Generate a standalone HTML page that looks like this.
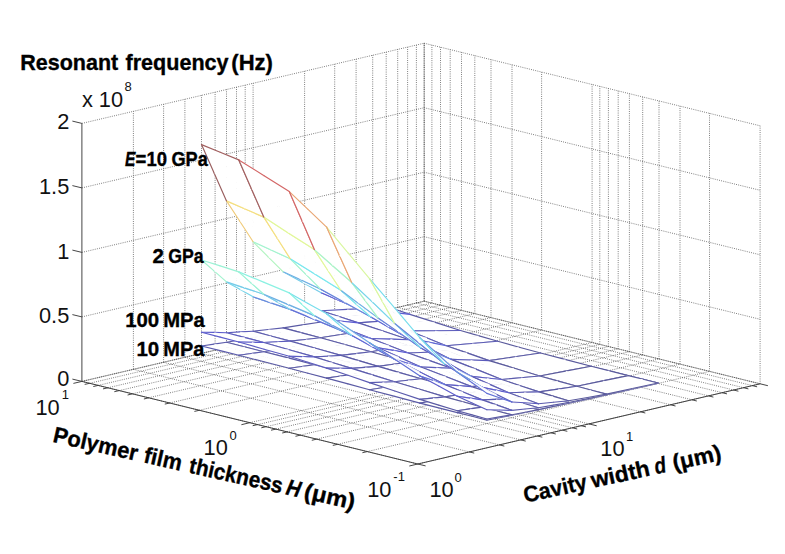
<!DOCTYPE html><html><head><meta charset="utf-8"><style>html,body{margin:0;padding:0;background:#fff;overflow:hidden}svg{display:block}</style></head><body><svg width="785" height="554" viewBox="0 0 785 554"><rect width="785" height="554" fill="#fff"/><path d="M133.4,369.3L133.4,111.3M163.6,362.3L163.6,104.3M184.9,357.3L184.9,99.3M201.5,353.4L201.5,95.4M215.1,350.2L215.1,92.2M226.5,347.5L226.5,89.5M236.5,345.2L236.5,87.2M245.2,343.1L245.2,85.1M253.1,341.3L253.1,83.3M304.6,329.2L304.6,71.2M334.7,322.2L334.7,64.2M356.1,317.2L356.1,59.2M372.7,313.3L372.7,55.3M386.2,310.1L386.2,52.1M397.7,307.4L397.7,49.4M407.6,305.1L407.6,47.1M416.4,303L416.4,45M424.2,301.2L424.2,43.2M81.9,381.4L424.2,301.2M81.9,316.9L424.2,236.7M81.9,252.4L424.2,172.2M81.9,187.9L424.2,107.7M81.9,123.4L424.2,43.2M760.1,383.8L760.1,125.8M709.5,371.4L709.5,113.4M680,364.1L680,106.1M659,358.9L659,100.9M642.7,354.9L642.7,96.9M629.4,351.7L629.4,93.7M618.2,348.9L618.2,90.9M608.4,346.5L608.4,88.5M599.8,344.4L599.8,86.4M592.1,342.5L592.1,84.5M541.6,330.1L541.6,72.1M512,322.8L512,64.8M491,317.6L491,59.6M474.8,313.6L474.8,55.6M461.5,310.4L461.5,52.4M450.2,307.6L450.2,49.6M440.5,305.2L440.5,47.2M431.9,303.1L431.9,45.1M424.2,301.2L424.2,43.2M424.2,301.2L760.1,383.8M424.2,236.7L760.1,319.3M424.2,172.2L760.1,254.8M424.2,107.7L760.1,190.3M424.2,43.2L760.1,125.8M81.9,381.4L417.8,464M133.4,369.3L469.3,451.9M163.6,362.3L499.5,444.9M184.9,357.3L520.8,439.9M201.5,353.4L537.4,436M215.1,350.2L551,432.8M226.5,347.5L562.4,430.1M236.5,345.2L572.4,427.8M245.2,343.1L581.1,425.7M253.1,341.3L588.9,423.9M304.6,329.2L640.5,411.8M334.7,322.2L670.6,404.8M356.1,317.2L692,399.8M372.7,313.3L708.6,395.9M386.2,310.1L722.1,392.7M397.7,307.4L733.6,390M407.6,305.1L743.5,387.7M416.4,303L752.3,385.6M424.2,301.2L760.1,383.8M417.8,464L760.1,383.8M367.2,451.6L709.5,371.4M337.7,444.3L680,364.1M316.7,439.1L659,358.9M300.4,435.1L642.7,354.9M287.1,431.9L629.4,351.7M275.9,429.1L618.2,348.9M266.1,426.7L608.4,346.5M257.5,424.6L599.8,344.4M249.8,422.7L592.1,342.5M199.3,410.3L541.6,330.1M169.7,403L512,322.8M148.7,397.8L491,317.6M132.5,393.8L474.8,313.6M119.2,390.6L461.5,310.4M107.9,387.8L450.2,307.6M98.2,385.4L440.5,305.2M89.6,383.3L431.9,303.1M81.9,381.4L424.2,301.2" stroke="#444" stroke-width="0.75" stroke-dasharray="0.9 1.3" fill="none"/><path d="M81.9,381.4L424.2,301.2M424.2,301.2L760.1,383.8M424.2,301.2L424.2,43.2" stroke="#8a8a8a" stroke-width="0.75" stroke-dasharray="0.9 1.3" fill="none" stroke-dashoffset="1.2"/><path d="M81.9,381.4L81.9,123.4M81.9,381.4L417.8,464M417.8,464L760.1,383.8M81.9,381.4L72.4,379.1M81.9,316.9L72.4,314.6M81.9,252.4L72.4,250.1M81.9,187.9L72.4,185.6M81.9,123.4L72.4,121.1M417.8,464L409.3,466M367.2,451.6L362.4,452.7M337.7,444.3L332.8,445.4M316.7,439.1L311.8,440.3M300.4,435.1L295.5,436.3M287.1,431.9L282.2,433M275.9,429.1L271,430.2M266.1,426.7L261.3,427.8M257.5,424.6L252.7,425.7M249.8,422.7L241.4,424.7M199.3,410.3L194.4,411.4M169.7,403L164.8,404.1M148.7,397.8L143.9,399M132.5,393.8L127.6,395M119.2,390.6L114.3,391.7M107.9,387.8L103,388.9M98.2,385.4L93.3,386.5M89.6,383.3L84.7,384.4M81.9,381.4L73.4,383.4M417.8,464L425.6,465.9M469.3,451.9L474.2,453.1M499.5,444.9L504.3,446.1M520.8,439.9L525.7,441.1M537.4,436L542.3,437.2M551,432.8L555.8,434M562.4,430.1L567.3,431.3M572.4,427.8L577.2,429M581.1,425.7L586,426.9M588.9,423.9L596.7,425.8M640.5,411.8L645.3,413M670.6,404.8L675.5,406M692,399.8L696.8,401M708.6,395.9L713.4,397.1M722.1,392.7L727,393.9M733.6,390L738.4,391.2M743.5,387.7L748.4,388.9M752.3,385.6L757.1,386.8M760.1,383.8L767.9,385.7" stroke="#3c3c3c" stroke-width="0.95" fill="none"/><g stroke-width="1.15" stroke-linecap="round"><path d="M365.5,323.1L346.9,318.4L372.7,312.8L391.3,317.4Z" fill="#fff" stroke="#fff" stroke-width="0.5"/><path d="M391.3,317.4L372.7,312.8" stroke="#5a5a9c"/><path d="M346.9,318.4L372.7,312.8" stroke="#5a5a9c"/><path d="M365.5,321.9L346.9,317L372.7,312.1L391.3,316.8Z" fill="#fff" stroke="#fff" stroke-width="0.5"/><path d="M391.3,316.8L372.7,312.1" stroke="#5a5a9c"/><path d="M346.9,317L372.7,312.1" stroke="#5a5a9c"/><path d="M365.5,315.1L346.9,309.4L372.7,308.1L391.3,313.4Z" fill="#fff" stroke="#fff" stroke-width="0.5"/><path d="M391.3,313.4L372.7,308.1" stroke="#5a5aa4"/><path d="M346.9,309.4L372.7,308.1" stroke="#5b5bbb"/><path d="M365.5,304.3L346.9,297.2L372.7,301.7L391.3,308Z" fill="#fff" stroke="#fff" stroke-width="0.5"/><path d="M391.3,308L372.7,301.7" stroke="#5b5bac"/><path d="M346.9,297.2L372.7,301.7" stroke="#606fd6"/><path d="M384.2,327.7L365.5,323.1L391.3,317.4L409.9,322Z" fill="#fff" stroke="#fff" stroke-width="0.5"/><path d="M409.9,322L391.3,317.4" stroke="#5a5a9c"/><path d="M384.2,327.7L409.9,322" stroke="#5a5a9c"/><path d="M384.2,326.7L365.5,321.9L391.3,316.8L409.9,321.6Z" fill="#fff" stroke="#fff" stroke-width="0.5"/><path d="M409.9,321.6L391.3,316.8" stroke="#5a5a9c"/><path d="M384.2,326.7L409.9,321.6" stroke="#5a5a9c"/><path d="M384.2,320.9L365.5,315.1L391.3,313.4L409.9,318.8Z" fill="#fff" stroke="#fff" stroke-width="0.5"/><path d="M409.9,318.8L391.3,313.4" stroke="#5a5aa4"/><path d="M384.2,320.9L409.9,318.8" stroke="#5b5bb3"/><path d="M384.2,311.5L365.5,304.3L391.3,308L409.9,314.4Z" fill="#fff" stroke="#fff" stroke-width="0.5"/><path d="M409.9,314.4L391.3,308" stroke="#5b5bac"/><path d="M384.2,311.5L409.9,314.4" stroke="#5c5cd2"/><path d="M339.8,328.8L321.2,324.1L346.9,318.4L365.5,323.1Z" fill="#fff" stroke="#fff" stroke-width="0.5"/><path d="M339.8,328.8L321.2,324.1" stroke="#5a5a9c"/><path d="M321.2,324.1L346.9,318.4" stroke="#5a5a9c"/><path d="M339.8,326.9L321.2,322L346.9,317L365.5,321.9Z" fill="#fff" stroke="#fff" stroke-width="0.5"/><path d="M339.8,326.9L321.2,322" stroke="#5a5a9c"/><path d="M321.2,322L346.9,317" stroke="#5a5a9c"/><path d="M339.8,316.8L321.2,310.7L346.9,309.4L365.5,315.1Z" fill="#fff" stroke="#fff" stroke-width="0.5"/><path d="M339.8,316.8L321.2,310.7" stroke="#5b5bb3"/><path d="M321.2,310.7L346.9,309.4" stroke="#5b5bbb"/><path d="M339.8,300.6L321.2,292.7L346.9,297.2L365.5,304.3Z" fill="#fff" stroke="#fff" stroke-width="0.5"/><path d="M339.8,300.6L321.2,292.7" stroke="#5c5cd2"/><path d="M321.2,292.7L346.9,297.2" stroke="#606fd6"/><path d="M409.5,334L384.2,327.7L409.9,322L435.2,328.3Z" fill="#fff" stroke="#fff" stroke-width="0.5"/><path d="M435.2,328.3L409.9,322" stroke="#5a5a9c"/><path d="M384.2,327.7L409.9,322" stroke="#5a5a9c"/><path d="M409.5,333.2L384.2,326.7L409.9,321.6L435.2,327.9Z" fill="#fff" stroke="#fff" stroke-width="0.5"/><path d="M435.2,327.9L409.9,321.6" stroke="#5a5a9c"/><path d="M384.2,326.7L409.9,321.6" stroke="#5a5a9c"/><path d="M409.5,328.6L384.2,320.9L409.9,318.8L435.2,325.8Z" fill="#fff" stroke="#fff" stroke-width="0.5"/><path d="M435.2,325.8L409.9,318.8" stroke="#5a5a9c"/><path d="M384.2,320.9L409.9,318.8" stroke="#5b5bb3"/><path d="M409.5,321.1L384.2,311.5L409.9,314.4L435.2,322.4Z" fill="#fff" stroke="#fff" stroke-width="0.5"/><path d="M435.2,322.4L409.9,314.4" stroke="#5a5aa4"/><path d="M384.2,311.5L409.9,314.4" stroke="#5c5cd2"/><path d="M358.4,333.4L339.8,328.8L365.5,323.1L384.2,327.7Z" fill="#fff" stroke="#fff" stroke-width="0.5"/><path d="M358.4,333.4L339.8,328.8" stroke="#5a5a9c"/><path d="M358.4,333.4L384.2,327.7" stroke="#5a5a9c"/><path d="M358.4,331.8L339.8,326.9L365.5,321.9L384.2,326.7Z" fill="#fff" stroke="#fff" stroke-width="0.5"/><path d="M358.4,331.8L339.8,326.9" stroke="#5a5a9c"/><path d="M358.4,331.8L384.2,326.7" stroke="#5a5a9c"/><path d="M358.4,322.9L339.8,316.8L365.5,315.1L384.2,320.9Z" fill="#fff" stroke="#fff" stroke-width="0.5"/><path d="M358.4,322.9L339.8,316.8" stroke="#5b5bb3"/><path d="M358.4,322.9L384.2,320.9" stroke="#5b5bb3"/><path d="M320.8,332.7L302.2,328L321.2,324.1L339.8,328.8Z" fill="#fff" stroke="#fff" stroke-width="0.5"/><path d="M339.8,328.8L321.2,324.1" stroke="#5a5a9c"/><path d="M302.2,328L321.2,324.1" stroke="#5a5a9c"/><path d="M320.8,329.9L302.2,324.9L321.2,322L339.8,326.9Z" fill="#fff" stroke="#fff" stroke-width="0.5"/><path d="M339.8,326.9L321.2,322" stroke="#5a5a9c"/><path d="M302.2,324.9L321.2,322" stroke="#5a5aa4"/><path d="M358.4,308.6L339.8,300.6L365.5,304.3L384.2,311.5Z" fill="#fff" stroke="#fff" stroke-width="0.5"/><path d="M358.4,308.6L339.8,300.6" stroke="#5c5cd2"/><path d="M358.4,308.6L384.2,311.5" stroke="#5c5cd2"/><path d="M320.8,314.7L302.2,308.5L321.2,310.7L339.8,316.8Z" fill="#fff" stroke="#fff" stroke-width="0.5"/><path d="M339.8,316.8L321.2,310.7" stroke="#5b5bb3"/><path d="M302.2,308.5L321.2,310.7" stroke="#5e66d4"/><path d="M320.8,290.5L302.2,282.2L321.2,292.7L339.8,300.6Z" fill="#fff" stroke="#fff" stroke-width="0.5"/><path d="M339.8,300.6L321.2,292.7" stroke="#5c5cd2"/><path d="M302.2,282.2L321.2,292.7" stroke="#73cbe8"/><path d="M301.8,336.7L283.2,332L302.2,328L320.8,332.7Z" fill="#fff" stroke="#fff" stroke-width="0.5"/><path d="M301.8,336.7L283.2,332" stroke="#5a5a9c"/><path d="M283.2,332L302.2,328" stroke="#5a5a9c"/><path d="M339.4,337.4L320.8,332.7L339.8,328.8L358.4,333.4Z" fill="#fff" stroke="#fff" stroke-width="0.5"/><path d="M358.4,333.4L339.8,328.8" stroke="#5a5a9c"/><path d="M339.4,337.4L358.4,333.4" stroke="#5a5a9c"/><path d="M383.7,339.8L358.4,333.4L384.2,327.7L409.5,334Z" fill="#fff" stroke="#fff" stroke-width="0.5"/><path d="M383.7,339.8L358.4,333.4" stroke="#5a5a9c"/><path d="M358.4,333.4L384.2,327.7" stroke="#5a5a9c"/><path d="M301.8,332.9L283.2,327.9L302.2,324.9L320.8,329.9Z" fill="#fff" stroke="#fff" stroke-width="0.5"/><path d="M301.8,332.9L283.2,327.9" stroke="#5a5aa4"/><path d="M283.2,327.9L302.2,324.9" stroke="#5a5aa4"/><path d="M339.4,334.8L320.8,329.9L339.8,326.9L358.4,331.8Z" fill="#fff" stroke="#fff" stroke-width="0.5"/><path d="M358.4,331.8L339.8,326.9" stroke="#5a5a9c"/><path d="M339.4,334.8L358.4,331.8" stroke="#5a5aa4"/><path d="M383.7,338.5L358.4,331.8L384.2,326.7L409.5,333.2Z" fill="#fff" stroke="#fff" stroke-width="0.5"/><path d="M383.7,338.5L358.4,331.8" stroke="#5a5a9c"/><path d="M358.4,331.8L384.2,326.7" stroke="#5a5a9c"/><path d="M434.7,340.3L409.5,334L435.2,328.3L460.5,334.5Z" fill="#fff" stroke="#fff" stroke-width="0.5"/><path d="M460.5,334.5L435.2,328.3" stroke="#5a5a9c"/><path d="M434.7,340.3L460.5,334.5" stroke="#5a5a9c"/><path d="M434.7,339.8L409.5,333.2L435.2,327.9L460.5,334.3Z" fill="#fff" stroke="#fff" stroke-width="0.5"/><path d="M460.5,334.3L435.2,327.9" stroke="#5a5a9c"/><path d="M434.7,339.8L460.5,334.3" stroke="#5a5a9c"/><path d="M434.7,336.3L409.5,328.6L435.2,325.8L460.5,332.9Z" fill="#fff" stroke="#fff" stroke-width="0.5"/><path d="M460.5,332.9L435.2,325.8" stroke="#5a5a9c"/><path d="M434.7,336.3L460.5,332.9" stroke="#5b5bac"/><path d="M383.7,331.3L358.4,322.9L384.2,320.9L409.5,328.6Z" fill="#fff" stroke="#fff" stroke-width="0.5"/><path d="M383.7,331.3L358.4,322.9" stroke="#5b5bac"/><path d="M358.4,322.9L384.2,320.9" stroke="#5b5bb3"/><path d="M434.7,330.7L409.5,321.1L435.2,322.4L460.5,330.5Z" fill="#fff" stroke="#fff" stroke-width="0.5"/><path d="M460.5,330.5L435.2,322.4" stroke="#5a5aa4"/><path d="M434.7,330.7L460.5,330.5" stroke="#5b5bbb"/><path d="M339.4,321L320.8,314.7L339.8,316.8L358.4,322.9Z" fill="#fff" stroke="#fff" stroke-width="0.5"/><path d="M358.4,322.9L339.8,316.8" stroke="#5b5bb3"/><path d="M339.4,321L358.4,322.9" stroke="#5c5cd2"/><path d="M301.8,312.7L283.2,306.3L302.2,308.5L320.8,314.7Z" fill="#fff" stroke="#fff" stroke-width="0.5"/><path d="M301.8,312.7L283.2,306.3" stroke="#5c5cd2"/><path d="M283.2,306.3L302.2,308.5" stroke="#5e66d4"/><path d="M383.7,319.7L358.4,308.6L384.2,311.5L409.5,321.1Z" fill="#fff" stroke="#fff" stroke-width="0.5"/><path d="M383.7,319.7L358.4,308.6" stroke="#5b5bbb"/><path d="M358.4,308.6L384.2,311.5" stroke="#5c5cd2"/><path d="M339.4,298.8L320.8,290.5L339.8,300.6L358.4,308.6Z" fill="#fff" stroke="#fff" stroke-width="0.5"/><path d="M358.4,308.6L339.8,300.6" stroke="#5c5cd2"/><path d="M339.4,298.8L358.4,308.6" stroke="#6dafe3"/><path d="M301.8,280.3L283.2,271.8L302.2,282.2L320.8,290.5Z" fill="#fff" stroke="#fff" stroke-width="0.5"/><path d="M301.8,280.3L283.2,271.8" stroke="#6dafe3"/><path d="M283.2,271.8L302.2,282.2" stroke="#73cbe8"/><path d="M286.7,339.5L268.1,334.9L283.2,332L301.8,336.7Z" fill="#fff" stroke="#fff" stroke-width="0.5"/><path d="M301.8,336.7L283.2,332" stroke="#5a5a9c"/><path d="M268.1,334.9L283.2,332" stroke="#5a5a9c"/><path d="M286.7,334.5L268.1,329.5L283.2,327.9L301.8,332.9Z" fill="#fff" stroke="#fff" stroke-width="0.5"/><path d="M301.8,332.9L283.2,327.9" stroke="#5a5aa4"/><path d="M268.1,329.5L283.2,327.9" stroke="#5b5bac"/><path d="M320.4,341.3L301.8,336.7L320.8,332.7L339.4,337.4Z" fill="#fff" stroke="#fff" stroke-width="0.5"/><path d="M320.4,341.3L301.8,336.7" stroke="#5a5a9c"/><path d="M320.4,341.3L339.4,337.4" stroke="#5a5a9c"/><path d="M320.4,337.8L301.8,332.9L320.8,329.9L339.4,334.8Z" fill="#fff" stroke="#fff" stroke-width="0.5"/><path d="M320.4,337.8L301.8,332.9" stroke="#5a5aa4"/><path d="M320.4,337.8L339.4,334.8" stroke="#5a5aa4"/><path d="M364.7,343.8L339.4,337.4L358.4,333.4L383.7,339.8Z" fill="#fff" stroke="#fff" stroke-width="0.5"/><path d="M383.7,339.8L358.4,333.4" stroke="#5a5a9c"/><path d="M339.4,337.4L358.4,333.4" stroke="#5a5a9c"/><path d="M364.7,341.7L339.4,334.8L358.4,331.8L383.7,338.5Z" fill="#fff" stroke="#fff" stroke-width="0.5"/><path d="M383.7,338.5L358.4,331.8" stroke="#5a5a9c"/><path d="M339.4,334.8L358.4,331.8" stroke="#5a5aa4"/><path d="M453.4,344.9L434.7,340.3L460.5,334.5L479.1,339.1Z" fill="#fff" stroke="#fff" stroke-width="0.5"/><path d="M479.1,339.1L460.5,334.5" stroke="#5a5a9c"/><path d="M434.7,340.3L460.5,334.5" stroke="#5a5a9c"/><path d="M453.4,344.5L434.7,339.8L460.5,334.3L479.1,339Z" fill="#fff" stroke="#fff" stroke-width="0.5"/><path d="M479.1,339L460.5,334.3" stroke="#5a5a9c"/><path d="M434.7,339.8L460.5,334.3" stroke="#5a5a9c"/><path d="M286.7,307.9L268.1,301.5L283.2,306.3L301.8,312.7Z" fill="#fff" stroke="#fff" stroke-width="0.5"/><path d="M301.8,312.7L283.2,306.3" stroke="#5c5cd2"/><path d="M268.1,301.5L283.2,306.3" stroke="#6894dd"/><path d="M320.4,319L301.8,312.7L320.8,314.7L339.4,321Z" fill="#fff" stroke="#fff" stroke-width="0.5"/><path d="M320.4,319L301.8,312.7" stroke="#5c5cd2"/><path d="M320.4,319L339.4,321" stroke="#5c5cd2"/><path d="M453.4,341.7L434.7,336.3L460.5,332.9L479.1,337.8Z" fill="#fff" stroke="#fff" stroke-width="0.5"/><path d="M479.1,337.8L460.5,332.9" stroke="#5a5a9c"/><path d="M434.7,336.3L460.5,332.9" stroke="#5b5bac"/><path d="M453.4,337.1L434.7,330.7L460.5,330.5L479.1,335.9Z" fill="#fff" stroke="#fff" stroke-width="0.5"/><path d="M479.1,335.9L460.5,330.5" stroke="#5a5a9c"/><path d="M434.7,330.7L460.5,330.5" stroke="#5b5bbb"/><path d="M364.7,330L339.4,321L358.4,322.9L383.7,331.3Z" fill="#fff" stroke="#fff" stroke-width="0.5"/><path d="M383.7,331.3L358.4,322.9" stroke="#5b5bac"/><path d="M339.4,321L358.4,322.9" stroke="#5c5cd2"/><path d="M409,346.1L383.7,339.8L409.5,334L434.7,340.3Z" fill="#fff" stroke="#fff" stroke-width="0.5"/><path d="M409,346.1L383.7,339.8" stroke="#5a5a9c"/><path d="M409,346.1L434.7,340.3" stroke="#5a5a9c"/><path d="M409,345.2L383.7,338.5L409.5,333.2L434.7,339.8Z" fill="#fff" stroke="#fff" stroke-width="0.5"/><path d="M409,345.2L383.7,338.5" stroke="#5a5a9c"/><path d="M409,345.2L434.7,339.8" stroke="#5a5a9c"/><path d="M409,339.7L383.7,331.3L409.5,328.6L434.7,336.3Z" fill="#fff" stroke="#fff" stroke-width="0.5"/><path d="M409,339.7L383.7,331.3" stroke="#5b5bac"/><path d="M409,339.7L434.7,336.3" stroke="#5b5bac"/><path d="M364.7,311.4L339.4,298.8L358.4,308.6L383.7,319.7Z" fill="#fff" stroke="#fff" stroke-width="0.5"/><path d="M383.7,319.7L358.4,308.6" stroke="#5b5bbb"/><path d="M339.4,298.8L358.4,308.6" stroke="#6dafe3"/><path d="M409,330.9L383.7,319.7L409.5,321.1L434.7,330.7Z" fill="#fff" stroke="#fff" stroke-width="0.5"/><path d="M409,330.9L383.7,319.7" stroke="#5b5bbb"/><path d="M409,330.9L434.7,330.7" stroke="#5b5bbb"/><path d="M320.4,288.9L301.8,280.3L320.8,290.5L339.4,298.8Z" fill="#fff" stroke="#fff" stroke-width="0.5"/><path d="M320.4,288.9L301.8,280.3" stroke="#6dafe3"/><path d="M320.4,288.9L339.4,298.8" stroke="#6dafe3"/><path d="M271.7,342.4L253.1,337.7L268.1,334.9L286.7,339.5Z" fill="#fff" stroke="#fff" stroke-width="0.5"/><path d="M271.7,342.4L253.1,337.7" stroke="#5a5a9c"/><path d="M253.1,337.7L268.1,334.9" stroke="#5a5a9c"/><path d="M271.7,336.2L253.1,331.2L268.1,329.5L286.7,334.5Z" fill="#fff" stroke="#fff" stroke-width="0.5"/><path d="M271.7,336.2L253.1,331.2" stroke="#5b5bac"/><path d="M253.1,331.2L268.1,329.5" stroke="#5b5bac"/><path d="M286.7,265.3L268.1,256.8L283.2,271.8L301.8,280.3Z" fill="#fff" stroke="#fff" stroke-width="0.5"/><path d="M301.8,280.3L283.2,271.8" stroke="#6dafe3"/><path d="M268.1,256.8L283.2,271.8" stroke="#b2f4c0"/><path d="M305.4,344.2L286.7,339.5L301.8,336.7L320.4,341.3Z" fill="#fff" stroke="#fff" stroke-width="0.5"/><path d="M320.4,341.3L301.8,336.7" stroke="#5a5a9c"/><path d="M305.4,344.2L320.4,341.3" stroke="#5a5a9c"/><path d="M305.4,339.5L286.7,334.5L301.8,332.9L320.4,337.8Z" fill="#fff" stroke="#fff" stroke-width="0.5"/><path d="M320.4,337.8L301.8,332.9" stroke="#5a5aa4"/><path d="M305.4,339.5L320.4,337.8" stroke="#5b5bac"/><path d="M271.7,303.1L253.1,296.8L268.1,301.5L286.7,307.9Z" fill="#fff" stroke="#fff" stroke-width="0.5"/><path d="M271.7,303.1L253.1,296.8" stroke="#668bdc"/><path d="M253.1,296.8L268.1,301.5" stroke="#6894dd"/><path d="M345.7,347.8L320.4,341.3L339.4,337.4L364.7,343.8Z" fill="#fff" stroke="#fff" stroke-width="0.5"/><path d="M345.7,347.8L320.4,341.3" stroke="#5a5a9c"/><path d="M320.4,341.3L339.4,337.4" stroke="#5a5a9c"/><path d="M345.7,344.8L320.4,337.8L339.4,334.8L364.7,341.7Z" fill="#fff" stroke="#fff" stroke-width="0.5"/><path d="M345.7,344.8L320.4,337.8" stroke="#5a5aa4"/><path d="M320.4,337.8L339.4,334.8" stroke="#5a5aa4"/><path d="M305.4,314.2L286.7,307.9L301.8,312.7L320.4,319Z" fill="#fff" stroke="#fff" stroke-width="0.5"/><path d="M320.4,319L301.8,312.7" stroke="#5c5cd2"/><path d="M305.4,314.2L320.4,319" stroke="#668bdc"/><path d="M472,349.5L453.4,344.9L479.1,339.1L497.8,343.7Z" fill="#fff" stroke="#fff" stroke-width="0.5"/><path d="M497.8,343.7L479.1,339.1" stroke="#5a5a9c"/><path d="M472,349.5L497.8,343.7" stroke="#5a5a9c"/><path d="M472,349.2L453.4,344.5L479.1,339L497.8,343.6Z" fill="#fff" stroke="#fff" stroke-width="0.5"/><path d="M497.8,343.6L479.1,339" stroke="#5a5a9c"/><path d="M472,349.2L497.8,343.6" stroke="#5a5a9c"/><path d="M472,347.1L453.4,341.7L479.1,337.8L497.8,342.8Z" fill="#fff" stroke="#fff" stroke-width="0.5"/><path d="M497.8,342.8L479.1,337.8" stroke="#5a5a9c"/><path d="M472,347.1L497.8,342.8" stroke="#5a5aa4"/><path d="M472,343.5L453.4,337.1L479.1,335.9L497.8,341.3Z" fill="#fff" stroke="#fff" stroke-width="0.5"/><path d="M497.8,341.3L479.1,335.9" stroke="#5a5a9c"/><path d="M472,343.5L497.8,341.3" stroke="#5b5bb3"/><path d="M258.4,344.7L239.8,340L253.1,337.7L271.7,342.4Z" fill="#fff" stroke="#fff" stroke-width="0.5"/><path d="M271.7,342.4L253.1,337.7" stroke="#5a5a9c"/><path d="M239.8,340L253.1,337.7" stroke="#5a5aa4"/><path d="M345.7,328.8L320.4,319L339.4,321L364.7,330Z" fill="#fff" stroke="#fff" stroke-width="0.5"/><path d="M345.7,328.8L320.4,319" stroke="#5c5cc3"/><path d="M320.4,319L339.4,321" stroke="#5c5cd2"/><path d="M258.4,336.9L239.8,331.9L253.1,331.2L271.7,336.2Z" fill="#fff" stroke="#fff" stroke-width="0.5"/><path d="M271.7,336.2L253.1,331.2" stroke="#5b5bac"/><path d="M239.8,331.9L253.1,331.2" stroke="#5b5bbb"/><path d="M390,350.1L364.7,343.8L383.7,339.8L409,346.1Z" fill="#fff" stroke="#fff" stroke-width="0.5"/><path d="M409,346.1L383.7,339.8" stroke="#5a5a9c"/><path d="M390,350.1L409,346.1" stroke="#5a5a9c"/><path d="M390,348.5L364.7,341.7L383.7,338.5L409,345.2Z" fill="#fff" stroke="#fff" stroke-width="0.5"/><path d="M409,345.2L383.7,338.5" stroke="#5a5a9c"/><path d="M390,348.5L409,345.2" stroke="#5a5aa4"/><path d="M427.6,350.7L409,346.1L434.7,340.3L453.4,344.9Z" fill="#fff" stroke="#fff" stroke-width="0.5"/><path d="M427.6,350.7L409,346.1" stroke="#5a5a9c"/><path d="M409,346.1L434.7,340.3" stroke="#5a5a9c"/><path d="M427.6,350L409,345.2L434.7,339.8L453.4,344.5Z" fill="#fff" stroke="#fff" stroke-width="0.5"/><path d="M427.6,350L409,345.2" stroke="#5a5a9c"/><path d="M409,345.2L434.7,339.8" stroke="#5a5a9c"/><path d="M427.6,345.6L409,339.7L434.7,336.3L453.4,341.7Z" fill="#fff" stroke="#fff" stroke-width="0.5"/><path d="M427.6,345.6L409,339.7" stroke="#5a5aa4"/><path d="M409,339.7L434.7,336.3" stroke="#5b5bac"/><path d="M290.3,347.1L271.7,342.4L286.7,339.5L305.4,344.2Z" fill="#fff" stroke="#fff" stroke-width="0.5"/><path d="M290.3,347.1L271.7,342.4" stroke="#5a5a9c"/><path d="M290.3,347.1L305.4,344.2" stroke="#5a5a9c"/><path d="M390,339.1L364.7,330L383.7,331.3L409,339.7Z" fill="#fff" stroke="#fff" stroke-width="0.5"/><path d="M409,339.7L383.7,331.3" stroke="#5b5bac"/><path d="M390,339.1L409,339.7" stroke="#5c5cc3"/><path d="M305.4,273.9L286.7,265.3L301.8,280.3L320.4,288.9Z" fill="#fff" stroke="#fff" stroke-width="0.5"/><path d="M320.4,288.9L301.8,280.3" stroke="#6dafe3"/><path d="M305.4,273.9L320.4,288.9" stroke="#a2f3ce"/><path d="M427.6,338.3L409,330.9L434.7,330.7L453.4,337.1Z" fill="#fff" stroke="#fff" stroke-width="0.5"/><path d="M427.6,338.3L409,330.9" stroke="#5b5bb3"/><path d="M409,330.9L434.7,330.7" stroke="#5b5bbb"/><path d="M290.3,341.1L271.7,336.2L286.7,334.5L305.4,339.5Z" fill="#fff" stroke="#fff" stroke-width="0.5"/><path d="M290.3,341.1L271.7,336.2" stroke="#5b5bac"/><path d="M290.3,341.1L305.4,339.5" stroke="#5b5bac"/><path d="M345.7,303L320.4,288.9L339.4,298.8L364.7,311.4Z" fill="#fff" stroke="#fff" stroke-width="0.5"/><path d="M345.7,303L320.4,288.9" stroke="#6481da"/><path d="M320.4,288.9L339.4,298.8" stroke="#6dafe3"/><path d="M271.7,250.3L253.1,241.8L268.1,256.8L286.7,265.3Z" fill="#fff" stroke="#fff" stroke-width="0.5"/><path d="M271.7,250.3L253.1,241.8" stroke="#a2f3ce"/><path d="M253.1,241.8L268.1,256.8" stroke="#b2f4c0"/><path d="M390,324L364.7,311.4L383.7,319.7L409,330.9Z" fill="#fff" stroke="#fff" stroke-width="0.5"/><path d="M409,330.9L383.7,319.7" stroke="#5b5bbb"/><path d="M390,324L409,330.9" stroke="#6481da"/><path d="M258.4,295.6L239.8,289.3L253.1,296.8L271.7,303.1Z" fill="#fff" stroke="#fff" stroke-width="0.5"/><path d="M271.7,303.1L253.1,296.8" stroke="#668bdc"/><path d="M239.8,289.3L253.1,296.8" stroke="#75d4ea"/><path d="M330.7,350.7L305.4,344.2L320.4,341.3L345.7,347.8Z" fill="#fff" stroke="#fff" stroke-width="0.5"/><path d="M345.7,347.8L320.4,341.3" stroke="#5a5a9c"/><path d="M305.4,344.2L320.4,341.3" stroke="#5a5a9c"/><path d="M245.2,347L226.5,342.3L239.8,340L258.4,344.7Z" fill="#fff" stroke="#fff" stroke-width="0.5"/><path d="M245.2,347L226.5,342.3" stroke="#5a5aa4"/><path d="M226.5,342.3L239.8,340" stroke="#5a5aa4"/><path d="M330.7,346.6L305.4,339.5L320.4,337.8L345.7,344.8Z" fill="#fff" stroke="#fff" stroke-width="0.5"/><path d="M345.7,344.8L320.4,337.8" stroke="#5a5aa4"/><path d="M305.4,339.5L320.4,337.8" stroke="#5b5bac"/><path d="M290.3,309.4L271.7,303.1L286.7,307.9L305.4,314.2Z" fill="#fff" stroke="#fff" stroke-width="0.5"/><path d="M290.3,309.4L271.7,303.1" stroke="#668bdc"/><path d="M290.3,309.4L305.4,314.2" stroke="#668bdc"/><path d="M245.2,337.6L226.5,332.7L239.8,331.9L258.4,336.9Z" fill="#fff" stroke="#fff" stroke-width="0.5"/><path d="M245.2,337.6L226.5,332.7" stroke="#5b5bbb"/><path d="M226.5,332.7L239.8,331.9" stroke="#5b5bbb"/><path d="M493.4,354.8L472,349.5L497.8,343.7L519.2,349Z" fill="#fff" stroke="#fff" stroke-width="0.5"/><path d="M519.2,349L497.8,343.7" stroke="#5a5a9c"/><path d="M472,349.5L497.8,343.7" stroke="#5a5a9c"/><path d="M493.4,354.6L472,349.2L497.8,343.6L519.2,348.9Z" fill="#fff" stroke="#fff" stroke-width="0.5"/><path d="M519.2,348.9L497.8,343.6" stroke="#5a5a9c"/><path d="M472,349.2L497.8,343.6" stroke="#5a5a9c"/><path d="M493.4,353L472,347.1L497.8,342.8L519.2,348.3Z" fill="#fff" stroke="#fff" stroke-width="0.5"/><path d="M519.2,348.3L497.8,342.8" stroke="#5a5a9c"/><path d="M472,347.1L497.8,342.8" stroke="#5a5aa4"/><path d="M493.4,350.2L472,343.5L497.8,341.3L519.2,347.2Z" fill="#fff" stroke="#fff" stroke-width="0.5"/><path d="M519.2,347.2L497.8,341.3" stroke="#5a5a9c"/><path d="M472,343.5L497.8,341.3" stroke="#5b5bb3"/><path d="M330.7,324.3L305.4,314.2L320.4,319L345.7,328.8Z" fill="#fff" stroke="#fff" stroke-width="0.5"/><path d="M345.7,328.8L320.4,319" stroke="#5c5cc3"/><path d="M305.4,314.2L320.4,319" stroke="#668bdc"/><path d="M277.1,349.4L258.4,344.7L271.7,342.4L290.3,347.1Z" fill="#fff" stroke="#fff" stroke-width="0.5"/><path d="M290.3,347.1L271.7,342.4" stroke="#5a5a9c"/><path d="M277.1,349.4L290.3,347.1" stroke="#5a5aa4"/><path d="M277.1,341.8L258.4,336.9L271.7,336.2L290.3,341.1Z" fill="#fff" stroke="#fff" stroke-width="0.5"/><path d="M290.3,341.1L271.7,336.2" stroke="#5b5bac"/><path d="M277.1,341.8L290.3,341.1" stroke="#5b5bbb"/><path d="M371,354.2L345.7,347.8L364.7,343.8L390,350.1Z" fill="#fff" stroke="#fff" stroke-width="0.5"/><path d="M371,354.2L345.7,347.8" stroke="#5a5a9c"/><path d="M371,354.2L390,350.1" stroke="#5a5a9c"/><path d="M371,351.8L345.7,344.8L364.7,341.7L390,348.5Z" fill="#fff" stroke="#fff" stroke-width="0.5"/><path d="M371,351.8L345.7,344.8" stroke="#5a5aa4"/><path d="M371,351.8L390,348.5" stroke="#5a5aa4"/><path d="M446.2,355.4L427.6,350.7L453.4,344.9L472,349.5Z" fill="#fff" stroke="#fff" stroke-width="0.5"/><path d="M446.2,355.4L427.6,350.7" stroke="#5a5a9c"/><path d="M446.2,355.4L472,349.5" stroke="#5a5a9c"/><path d="M446.2,354.9L427.6,350L453.4,344.5L472,349.2Z" fill="#fff" stroke="#fff" stroke-width="0.5"/><path d="M446.2,354.9L427.6,350" stroke="#5a5a9c"/><path d="M446.2,354.9L472,349.2" stroke="#5a5a9c"/><path d="M446.2,351.4L427.6,345.6L453.4,341.7L472,347.1Z" fill="#fff" stroke="#fff" stroke-width="0.5"/><path d="M446.2,351.4L427.6,345.6" stroke="#5a5aa4"/><path d="M446.2,351.4L472,347.1" stroke="#5a5aa4"/><path d="M446.2,345.7L427.6,338.3L453.4,337.1L472,343.5Z" fill="#fff" stroke="#fff" stroke-width="0.5"/><path d="M446.2,345.7L427.6,338.3" stroke="#5b5bb3"/><path d="M446.2,345.7L472,343.5" stroke="#5b5bb3"/><path d="M408.6,354.8L390,350.1L409,346.1L427.6,350.7Z" fill="#fff" stroke="#fff" stroke-width="0.5"/><path d="M427.6,350.7L409,346.1" stroke="#5a5a9c"/><path d="M390,350.1L409,346.1" stroke="#5a5a9c"/><path d="M371,338.5L345.7,328.8L364.7,330L390,339.1Z" fill="#fff" stroke="#fff" stroke-width="0.5"/><path d="M371,338.5L345.7,328.8" stroke="#5c5cc3"/><path d="M371,338.5L390,339.1" stroke="#5c5cc3"/><path d="M408.6,353.5L390,348.5L409,345.2L427.6,350Z" fill="#fff" stroke="#fff" stroke-width="0.5"/><path d="M427.6,350L409,345.2" stroke="#5a5a9c"/><path d="M390,348.5L409,345.2" stroke="#5a5aa4"/><path d="M290.3,258.8L271.7,250.3L286.7,265.3L305.4,273.9Z" fill="#fff" stroke="#fff" stroke-width="0.5"/><path d="M290.3,258.8L271.7,250.3" stroke="#a2f3ce"/><path d="M290.3,258.8L305.4,273.9" stroke="#a2f3ce"/><path d="M232.7,348.8L214,344.1L226.5,342.3L245.2,347Z" fill="#fff" stroke="#fff" stroke-width="0.5"/><path d="M245.2,347L226.5,342.3" stroke="#5a5aa4"/><path d="M214,344.1L226.5,342.3" stroke="#5b5bac"/><path d="M258.4,229.6L239.8,221.3L253.1,241.8L271.7,250.3Z" fill="#fff" stroke="#fff" stroke-width="0.5"/><path d="M271.7,250.3L253.1,241.8" stroke="#a2f3ce"/><path d="M239.8,221.3L253.1,241.8" stroke="#f0cb7a"/><path d="M245.2,288.1L226.5,281.9L239.8,289.3L258.4,295.6Z" fill="#fff" stroke="#fff" stroke-width="0.5"/><path d="M245.2,288.1L226.5,281.9" stroke="#73cbe8"/><path d="M226.5,281.9L239.8,289.3" stroke="#75d4ea"/><path d="M330.7,288.8L305.4,273.9L320.4,288.9L345.7,303Z" fill="#fff" stroke="#fff" stroke-width="0.5"/><path d="M345.7,303L320.4,288.9" stroke="#6481da"/><path d="M305.4,273.9L320.4,288.9" stroke="#a2f3ce"/><path d="M315.6,353.6L290.3,347.1L305.4,344.2L330.7,350.7Z" fill="#fff" stroke="#fff" stroke-width="0.5"/><path d="M315.6,353.6L290.3,347.1" stroke="#5a5a9c"/><path d="M290.3,347.1L305.4,344.2" stroke="#5a5a9c"/><path d="M408.6,345.6L390,339.1L409,339.7L427.6,345.6Z" fill="#fff" stroke="#fff" stroke-width="0.5"/><path d="M427.6,345.6L409,339.7" stroke="#5a5aa4"/><path d="M390,339.1L409,339.7" stroke="#5c5cc3"/><path d="M232.7,337.4L214,332.4L226.5,332.7L245.2,337.6Z" fill="#fff" stroke="#fff" stroke-width="0.5"/><path d="M245.2,337.6L226.5,332.7" stroke="#5b5bbb"/><path d="M214,332.4L226.5,332.7" stroke="#5c5ccb"/><path d="M315.6,348.3L290.3,341.1L305.4,339.5L330.7,346.6Z" fill="#fff" stroke="#fff" stroke-width="0.5"/><path d="M315.6,348.3L290.3,341.1" stroke="#5b5bac"/><path d="M290.3,341.1L305.4,339.5" stroke="#5b5bac"/><path d="M277.1,301.8L258.4,295.6L271.7,303.1L290.3,309.4Z" fill="#fff" stroke="#fff" stroke-width="0.5"/><path d="M290.3,309.4L271.7,303.1" stroke="#668bdc"/><path d="M277.1,301.8L290.3,309.4" stroke="#73cbe8"/><path d="M408.6,333L390,324L409,330.9L427.6,338.3Z" fill="#fff" stroke="#fff" stroke-width="0.5"/><path d="M427.6,338.3L409,330.9" stroke="#5b5bb3"/><path d="M390,324L409,330.9" stroke="#6481da"/><path d="M371,317.1L345.7,303L364.7,311.4L390,324Z" fill="#fff" stroke="#fff" stroke-width="0.5"/><path d="M371,317.1L345.7,303" stroke="#6481da"/><path d="M371,317.1L390,324" stroke="#6481da"/><path d="M263.8,351.7L245.2,347L258.4,344.7L277.1,349.4Z" fill="#fff" stroke="#fff" stroke-width="0.5"/><path d="M263.8,351.7L245.2,347" stroke="#5a5aa4"/><path d="M263.8,351.7L277.1,349.4" stroke="#5a5aa4"/><path d="M263.8,342.5L245.2,337.6L258.4,336.9L277.1,341.8Z" fill="#fff" stroke="#fff" stroke-width="0.5"/><path d="M263.8,342.5L245.2,337.6" stroke="#5b5bbb"/><path d="M263.8,342.5L277.1,341.8" stroke="#5b5bbb"/><path d="M315.6,319.9L290.3,309.4L305.4,314.2L330.7,324.3Z" fill="#fff" stroke="#fff" stroke-width="0.5"/><path d="M315.6,319.9L290.3,309.4" stroke="#606fd6"/><path d="M290.3,309.4L305.4,314.2" stroke="#668bdc"/><path d="M355.9,357.1L330.7,350.7L345.7,347.8L371,354.2Z" fill="#fff" stroke="#fff" stroke-width="0.5"/><path d="M371,354.2L345.7,347.8" stroke="#5a5a9c"/><path d="M355.9,357.1L371,354.2" stroke="#5a5a9c"/><path d="M220.2,350.6L201.5,346L214,344.1L232.7,348.8Z" fill="#fff" stroke="#fff" stroke-width="0.5"/><path d="M220.2,350.6L201.5,346" stroke="#5b5bac"/><path d="M201.5,346L214,344.1" stroke="#5b5bac"/><path d="M355.9,353.6L330.7,346.6L345.7,344.8L371,351.8Z" fill="#fff" stroke="#fff" stroke-width="0.5"/><path d="M371,351.8L345.7,344.8" stroke="#5a5aa4"/><path d="M355.9,353.6L371,351.8" stroke="#5b5bac"/><path d="M514.9,360.1L493.4,354.8L519.2,349L540.6,354.2Z" fill="#fff" stroke="#fff" stroke-width="0.5"/><path d="M540.6,354.2L519.2,349" stroke="#5a5a9c"/><path d="M514.9,360.1L540.6,354.2" stroke="#5a5a9c"/><path d="M514.9,360L493.4,354.6L519.2,348.9L540.6,354.2Z" fill="#fff" stroke="#fff" stroke-width="0.5"/><path d="M540.6,354.2L519.2,348.9" stroke="#5a5a9c"/><path d="M514.9,360L540.6,354.2" stroke="#5a5a9c"/><path d="M514.9,358.8L493.4,353L519.2,348.3L540.6,353.8Z" fill="#fff" stroke="#fff" stroke-width="0.5"/><path d="M540.6,353.8L519.2,348.3" stroke="#5a5a9c"/><path d="M514.9,358.8L540.6,353.8" stroke="#5a5a9c"/><path d="M514.9,356.8L493.4,350.2L519.2,347.2L540.6,353Z" fill="#fff" stroke="#fff" stroke-width="0.5"/><path d="M540.6,353L519.2,347.2" stroke="#5a5a9c"/><path d="M514.9,356.8L540.6,353" stroke="#5a5aa4"/><path d="M302.3,355.9L277.1,349.4L290.3,347.1L315.6,353.6Z" fill="#fff" stroke="#fff" stroke-width="0.5"/><path d="M315.6,353.6L290.3,347.1" stroke="#5a5a9c"/><path d="M277.1,349.4L290.3,347.1" stroke="#5a5aa4"/><path d="M220.2,337.1L201.5,332.2L214,332.4L232.7,337.4Z" fill="#fff" stroke="#fff" stroke-width="0.5"/><path d="M220.2,337.1L201.5,332.2" stroke="#5c5ccb"/><path d="M201.5,332.2L214,332.4" stroke="#5c5ccb"/><path d="M232.7,277L214,270.9L226.5,281.9L245.2,288.1Z" fill="#fff" stroke="#fff" stroke-width="0.5"/><path d="M245.2,288.1L226.5,281.9" stroke="#73cbe8"/><path d="M214,270.9L226.5,281.9" stroke="#a2f3ce"/><path d="M467.7,360.6L446.2,355.4L472,349.5L493.4,354.8Z" fill="#fff" stroke="#fff" stroke-width="0.5"/><path d="M467.7,360.6L446.2,355.4" stroke="#5a5a9c"/><path d="M446.2,355.4L472,349.5" stroke="#5a5a9c"/><path d="M302.3,349L277.1,341.8L290.3,341.1L315.6,348.3Z" fill="#fff" stroke="#fff" stroke-width="0.5"/><path d="M315.6,348.3L290.3,341.1" stroke="#5b5bac"/><path d="M277.1,341.8L290.3,341.1" stroke="#5b5bbb"/><path d="M467.7,360.3L446.2,354.9L472,349.2L493.4,354.6Z" fill="#fff" stroke="#fff" stroke-width="0.5"/><path d="M467.7,360.3L446.2,354.9" stroke="#5a5a9c"/><path d="M446.2,354.9L472,349.2" stroke="#5a5a9c"/><path d="M355.9,334.5L330.7,324.3L345.7,328.8L371,338.5Z" fill="#fff" stroke="#fff" stroke-width="0.5"/><path d="M371,338.5L345.7,328.8" stroke="#5c5cc3"/><path d="M355.9,334.5L371,338.5" stroke="#606fd6"/><path d="M467.7,357.6L446.2,351.4L472,347.1L493.4,353Z" fill="#fff" stroke="#fff" stroke-width="0.5"/><path d="M467.7,357.6L446.2,351.4" stroke="#5a5a9c"/><path d="M446.2,351.4L472,347.1" stroke="#5a5aa4"/><path d="M389.6,358.9L371,354.2L390,350.1L408.6,354.8Z" fill="#fff" stroke="#fff" stroke-width="0.5"/><path d="M389.6,358.9L371,354.2" stroke="#5a5a9c"/><path d="M371,354.2L390,350.1" stroke="#5a5a9c"/><path d="M427.2,359.5L408.6,354.8L427.6,350.7L446.2,355.4Z" fill="#fff" stroke="#fff" stroke-width="0.5"/><path d="M446.2,355.4L427.6,350.7" stroke="#5a5a9c"/><path d="M427.2,359.5L446.2,355.4" stroke="#5a5a9c"/><path d="M389.6,357L371,351.8L390,348.5L408.6,353.5Z" fill="#fff" stroke="#fff" stroke-width="0.5"/><path d="M389.6,357L371,351.8" stroke="#5a5a9c"/><path d="M371,351.8L390,348.5" stroke="#5a5aa4"/><path d="M427.2,358.5L408.6,353.5L427.6,350L446.2,354.9Z" fill="#fff" stroke="#fff" stroke-width="0.5"/><path d="M446.2,354.9L427.6,350" stroke="#5a5a9c"/><path d="M427.2,358.5L446.2,354.9" stroke="#5a5a9c"/><path d="M467.7,353.1L446.2,345.7L472,343.5L493.4,350.2Z" fill="#fff" stroke="#fff" stroke-width="0.5"/><path d="M467.7,353.1L446.2,345.7" stroke="#5a5aa4"/><path d="M446.2,345.7L472,343.5" stroke="#5b5bb3"/><path d="M251.3,353.5L232.7,348.8L245.2,347L263.8,351.7Z" fill="#fff" stroke="#fff" stroke-width="0.5"/><path d="M263.8,351.7L245.2,347" stroke="#5a5aa4"/><path d="M251.3,353.5L263.8,351.7" stroke="#5b5bac"/><path d="M277.1,238L258.4,229.6L271.7,250.3L290.3,258.8Z" fill="#fff" stroke="#fff" stroke-width="0.5"/><path d="M290.3,258.8L271.7,250.3" stroke="#a2f3ce"/><path d="M277.1,238L290.3,258.8" stroke="#f4de7e"/><path d="M263.8,294.2L245.2,288.1L258.4,295.6L277.1,301.8Z" fill="#fff" stroke="#fff" stroke-width="0.5"/><path d="M263.8,294.2L245.2,288.1" stroke="#73cbe8"/><path d="M263.8,294.2L277.1,301.8" stroke="#73cbe8"/><path d="M245.2,209L226.5,200.9L239.8,221.3L258.4,229.6Z" fill="#fff" stroke="#fff" stroke-width="0.5"/><path d="M245.2,209L226.5,200.9" stroke="#f4de7e"/><path d="M226.5,200.9L239.8,221.3" stroke="#f0cb7a"/><path d="M427.2,352.2L408.6,345.6L427.6,345.6L446.2,351.4Z" fill="#fff" stroke="#fff" stroke-width="0.5"/><path d="M446.2,351.4L427.6,345.6" stroke="#5a5aa4"/><path d="M427.2,352.2L446.2,351.4" stroke="#5b5bb3"/><path d="M315.6,274.5L290.3,258.8L305.4,273.9L330.7,288.8Z" fill="#fff" stroke="#fff" stroke-width="0.5"/><path d="M315.6,274.5L290.3,258.8" stroke="#78e7ee"/><path d="M290.3,258.8L305.4,273.9" stroke="#a2f3ce"/><path d="M389.6,345.7L371,338.5L390,339.1L408.6,345.6Z" fill="#fff" stroke="#fff" stroke-width="0.5"/><path d="M389.6,345.7L371,338.5" stroke="#5b5bb3"/><path d="M371,338.5L390,339.1" stroke="#5c5cc3"/><path d="M251.3,342.3L232.7,337.4L245.2,337.6L263.8,342.5Z" fill="#fff" stroke="#fff" stroke-width="0.5"/><path d="M263.8,342.5L245.2,337.6" stroke="#5b5bbb"/><path d="M251.3,342.3L263.8,342.5" stroke="#5c5ccb"/><path d="M427.2,341.9L408.6,333L427.6,338.3L446.2,345.7Z" fill="#fff" stroke="#fff" stroke-width="0.5"/><path d="M446.2,345.7L427.6,338.3" stroke="#5b5bb3"/><path d="M427.2,341.9L446.2,345.7" stroke="#5e66d4"/><path d="M355.9,303.7L330.7,288.8L345.7,303L371,317.1Z" fill="#fff" stroke="#fff" stroke-width="0.5"/><path d="M371,317.1L345.7,303" stroke="#6481da"/><path d="M355.9,303.7L371,317.1" stroke="#78e7ee"/><path d="M389.6,327.7L371,317.1L390,324L408.6,333Z" fill="#fff" stroke="#fff" stroke-width="0.5"/><path d="M389.6,327.7L371,317.1" stroke="#5e66d4"/><path d="M371,317.1L390,324" stroke="#6481da"/><path d="M302.3,312.4L277.1,301.8L290.3,309.4L315.6,319.9Z" fill="#fff" stroke="#fff" stroke-width="0.5"/><path d="M315.6,319.9L290.3,309.4" stroke="#606fd6"/><path d="M277.1,301.8L290.3,309.4" stroke="#73cbe8"/><path d="M340.9,360.1L315.6,353.6L330.7,350.7L355.9,357.1Z" fill="#fff" stroke="#fff" stroke-width="0.5"/><path d="M340.9,360.1L315.6,353.6" stroke="#5a5a9c"/><path d="M340.9,360.1L355.9,357.1" stroke="#5a5a9c"/><path d="M340.9,355.4L315.6,348.3L330.7,346.6L355.9,353.6Z" fill="#fff" stroke="#fff" stroke-width="0.5"/><path d="M340.9,355.4L315.6,348.3" stroke="#5b5bac"/><path d="M340.9,355.4L355.9,353.6" stroke="#5b5bac"/><path d="M289.1,358.1L263.8,351.7L277.1,349.4L302.3,355.9Z" fill="#fff" stroke="#fff" stroke-width="0.5"/><path d="M289.1,358.1L263.8,351.7" stroke="#5a5aa4"/><path d="M263.8,351.7L277.1,349.4" stroke="#5a5aa4"/><path d="M289.1,349.7L263.8,342.5L277.1,341.8L302.3,349Z" fill="#fff" stroke="#fff" stroke-width="0.5"/><path d="M289.1,349.7L263.8,342.5" stroke="#5b5bb3"/><path d="M263.8,342.5L277.1,341.8" stroke="#5b5bbb"/><path d="M238.8,355.3L220.2,350.6L232.7,348.8L251.3,353.5Z" fill="#fff" stroke="#fff" stroke-width="0.5"/><path d="M238.8,355.3L220.2,350.6" stroke="#5b5bac"/><path d="M238.8,355.3L251.3,353.5" stroke="#5b5bac"/><path d="M220.2,265.9L201.5,260L214,270.9L232.7,277Z" fill="#fff" stroke="#fff" stroke-width="0.5"/><path d="M220.2,265.9L201.5,260" stroke="#9af2d5"/><path d="M201.5,260L214,270.9" stroke="#a2f3ce"/><path d="M340.9,330.4L315.6,319.9L330.7,324.3L355.9,334.5Z" fill="#fff" stroke="#fff" stroke-width="0.5"/><path d="M340.9,330.4L315.6,319.9" stroke="#606fd6"/><path d="M340.9,330.4L355.9,334.5" stroke="#606fd6"/><path d="M238.8,342L220.2,337.1L232.7,337.4L251.3,342.3Z" fill="#fff" stroke="#fff" stroke-width="0.5"/><path d="M238.8,342L220.2,337.1" stroke="#5c5ccb"/><path d="M238.8,342L251.3,342.3" stroke="#5c5ccb"/><path d="M374.6,361.9L355.9,357.1L371,354.2L389.6,358.9Z" fill="#fff" stroke="#fff" stroke-width="0.5"/><path d="M389.6,358.9L371,354.2" stroke="#5a5a9c"/><path d="M355.9,357.1L371,354.2" stroke="#5a5a9c"/><path d="M374.6,358.9L355.9,353.6L371,351.8L389.6,357Z" fill="#fff" stroke="#fff" stroke-width="0.5"/><path d="M389.6,357L371,351.8" stroke="#5a5a9c"/><path d="M355.9,353.6L371,351.8" stroke="#5b5bac"/><path d="M251.3,283.1L232.7,277L245.2,288.1L263.8,294.2Z" fill="#fff" stroke="#fff" stroke-width="0.5"/><path d="M263.8,294.2L245.2,288.1" stroke="#73cbe8"/><path d="M251.3,283.1L263.8,294.2" stroke="#9af2d5"/><path d="M408.3,363.6L389.6,358.9L408.6,354.8L427.2,359.5Z" fill="#fff" stroke="#fff" stroke-width="0.5"/><path d="M408.3,363.6L389.6,358.9" stroke="#5a5a9c"/><path d="M408.3,363.6L427.2,359.5" stroke="#5a5a9c"/><path d="M408.3,362.1L389.6,357L408.6,353.5L427.2,358.5Z" fill="#fff" stroke="#fff" stroke-width="0.5"/><path d="M408.3,362.1L389.6,357" stroke="#5a5a9c"/><path d="M408.3,362.1L427.2,358.5" stroke="#5a5a9c"/><path d="M540.1,366.3L514.9,360.1L540.6,354.2L565.9,360.5Z" fill="#fff" stroke="#fff" stroke-width="0.5"/><path d="M565.9,360.5L540.6,354.2" stroke="#5a5a9c"/><path d="M514.9,360.1L540.6,354.2" stroke="#5a5a9c"/><path d="M540.1,366.2L514.9,360L540.6,354.2L565.9,360.4Z" fill="#fff" stroke="#fff" stroke-width="0.5"/><path d="M565.9,360.4L540.6,354.2" stroke="#5a5a9c"/><path d="M514.9,360L540.6,354.2" stroke="#5a5a9c"/><path d="M540.1,365.4L514.9,358.8L540.6,353.8L565.9,360.2Z" fill="#fff" stroke="#fff" stroke-width="0.5"/><path d="M565.9,360.2L540.6,353.8" stroke="#5a5a9c"/><path d="M514.9,358.8L540.6,353.8" stroke="#5a5a9c"/><path d="M263.8,217.1L245.2,209L258.4,229.6L277.1,238Z" fill="#fff" stroke="#fff" stroke-width="0.5"/><path d="M263.8,217.1L245.2,209" stroke="#f4de7e"/><path d="M263.8,217.1L277.1,238" stroke="#f4de7e"/><path d="M540.1,363.9L514.9,356.8L540.6,353L565.9,359.6Z" fill="#fff" stroke="#fff" stroke-width="0.5"/><path d="M565.9,359.6L540.6,353" stroke="#5a5a9c"/><path d="M514.9,356.8L540.6,353" stroke="#5a5aa4"/><path d="M448.7,364.8L427.2,359.5L446.2,355.4L467.7,360.6Z" fill="#fff" stroke="#fff" stroke-width="0.5"/><path d="M467.7,360.6L446.2,355.4" stroke="#5a5a9c"/><path d="M427.2,359.5L446.2,355.4" stroke="#5a5a9c"/><path d="M489.1,365.9L467.7,360.6L493.4,354.8L514.9,360.1Z" fill="#fff" stroke="#fff" stroke-width="0.5"/><path d="M489.1,365.9L467.7,360.6" stroke="#5a5a9c"/><path d="M489.1,365.9L514.9,360.1" stroke="#5a5a9c"/><path d="M489.1,365.7L467.7,360.3L493.4,354.6L514.9,360Z" fill="#fff" stroke="#fff" stroke-width="0.5"/><path d="M489.1,365.7L467.7,360.3" stroke="#5a5a9c"/><path d="M489.1,365.7L514.9,360" stroke="#5a5a9c"/><path d="M448.7,364.1L427.2,358.5L446.2,354.9L467.7,360.3Z" fill="#fff" stroke="#fff" stroke-width="0.5"/><path d="M467.7,360.3L446.2,354.9" stroke="#5a5a9c"/><path d="M427.2,358.5L446.2,354.9" stroke="#5a5a9c"/><path d="M374.6,342.4L355.9,334.5L371,338.5L389.6,345.7Z" fill="#fff" stroke="#fff" stroke-width="0.5"/><path d="M389.6,345.7L371,338.5" stroke="#5b5bb3"/><path d="M355.9,334.5L371,338.5" stroke="#606fd6"/><path d="M489.1,363.9L467.7,357.6L493.4,353L514.9,358.8Z" fill="#fff" stroke="#fff" stroke-width="0.5"/><path d="M489.1,363.9L467.7,357.6" stroke="#5a5a9c"/><path d="M489.1,363.9L514.9,358.8" stroke="#5a5a9c"/><path d="M232.7,180.6L214,172.8L226.5,200.9L245.2,209Z" fill="#fff" stroke="#fff" stroke-width="0.5"/><path d="M245.2,209L226.5,200.9" stroke="#f4de7e"/><path d="M214,172.8L226.5,200.9" stroke="#995e5e"/><path d="M408.3,353L389.6,345.7L408.6,345.6L427.2,352.2Z" fill="#fff" stroke="#fff" stroke-width="0.5"/><path d="M408.3,353L389.6,345.7" stroke="#5b5bb3"/><path d="M408.3,353L427.2,352.2" stroke="#5b5bb3"/><path d="M302.3,254L277.1,238L290.3,258.8L315.6,274.5Z" fill="#fff" stroke="#fff" stroke-width="0.5"/><path d="M315.6,274.5L290.3,258.8" stroke="#78e7ee"/><path d="M277.1,238L290.3,258.8" stroke="#f4de7e"/><path d="M448.7,359.1L427.2,352.2L446.2,351.4L467.7,357.6Z" fill="#fff" stroke="#fff" stroke-width="0.5"/><path d="M467.7,357.6L446.2,351.4" stroke="#5a5a9c"/><path d="M427.2,352.2L446.2,351.4" stroke="#5b5bb3"/><path d="M489.1,360.6L467.7,353.1L493.4,350.2L514.9,356.8Z" fill="#fff" stroke="#fff" stroke-width="0.5"/><path d="M489.1,360.6L467.7,353.1" stroke="#5a5aa4"/><path d="M489.1,360.6L514.9,356.8" stroke="#5a5aa4"/><path d="M327.6,362.3L302.3,355.9L315.6,353.6L340.9,360.1Z" fill="#fff" stroke="#fff" stroke-width="0.5"/><path d="M340.9,360.1L315.6,353.6" stroke="#5a5a9c"/><path d="M327.6,362.3L340.9,360.1" stroke="#5a5aa4"/><path d="M276.6,360L251.3,353.5L263.8,351.7L289.1,358.1Z" fill="#fff" stroke="#fff" stroke-width="0.5"/><path d="M289.1,358.1L263.8,351.7" stroke="#5a5aa4"/><path d="M251.3,353.5L263.8,351.7" stroke="#5b5bac"/><path d="M289.1,304.9L263.8,294.2L277.1,301.8L302.3,312.4Z" fill="#fff" stroke="#fff" stroke-width="0.5"/><path d="M289.1,304.9L263.8,294.2" stroke="#6dafe3"/><path d="M263.8,294.2L277.1,301.8" stroke="#73cbe8"/><path d="M448.7,351L427.2,341.9L446.2,345.7L467.7,353.1Z" fill="#fff" stroke="#fff" stroke-width="0.5"/><path d="M467.7,353.1L446.2,345.7" stroke="#5a5aa4"/><path d="M427.2,341.9L446.2,345.7" stroke="#5e66d4"/><path d="M327.6,356.2L302.3,349L315.6,348.3L340.9,355.4Z" fill="#fff" stroke="#fff" stroke-width="0.5"/><path d="M340.9,355.4L315.6,348.3" stroke="#5b5bac"/><path d="M327.6,356.2L340.9,355.4" stroke="#5b5bb3"/><path d="M408.3,338.2L389.6,327.7L408.6,333L427.2,341.9Z" fill="#fff" stroke="#fff" stroke-width="0.5"/><path d="M408.3,338.2L389.6,327.7" stroke="#5e66d4"/><path d="M408.3,338.2L427.2,341.9" stroke="#5e66d4"/><path d="M276.6,349.4L251.3,342.3L263.8,342.5L289.1,349.7Z" fill="#fff" stroke="#fff" stroke-width="0.5"/><path d="M289.1,349.7L263.8,342.5" stroke="#5b5bb3"/><path d="M251.3,342.3L263.8,342.5" stroke="#5c5ccb"/><path d="M340.9,290.3L315.6,274.5L330.7,288.8L355.9,303.7Z" fill="#fff" stroke="#fff" stroke-width="0.5"/><path d="M340.9,290.3L315.6,274.5" stroke="#78e7ee"/><path d="M340.9,290.3L355.9,303.7" stroke="#78e7ee"/><path d="M374.6,315.9L355.9,303.7L371,317.1L389.6,327.7Z" fill="#fff" stroke="#fff" stroke-width="0.5"/><path d="M389.6,327.7L371,317.1" stroke="#5e66d4"/><path d="M355.9,303.7L371,317.1" stroke="#78e7ee"/><path d="M359.5,364.9L340.9,360.1L355.9,357.1L374.6,361.9Z" fill="#fff" stroke="#fff" stroke-width="0.5"/><path d="M359.5,364.9L340.9,360.1" stroke="#5a5a9c"/><path d="M340.9,360.1L355.9,357.1" stroke="#5a5a9c"/><path d="M327.6,323L302.3,312.4L315.6,319.9L340.9,330.4Z" fill="#fff" stroke="#fff" stroke-width="0.5"/><path d="M340.9,330.4L315.6,319.9" stroke="#606fd6"/><path d="M327.6,323L340.9,330.4" stroke="#6dafe3"/><path d="M359.5,360.9L340.9,355.4L355.9,353.6L374.6,358.9Z" fill="#fff" stroke="#fff" stroke-width="0.5"/><path d="M359.5,360.9L340.9,355.4" stroke="#5a5aa4"/><path d="M340.9,355.4L355.9,353.6" stroke="#5b5bac"/><path d="M238.8,271.9L220.2,265.9L232.7,277L251.3,283.1Z" fill="#fff" stroke="#fff" stroke-width="0.5"/><path d="M238.8,271.9L220.2,265.9" stroke="#9af2d5"/><path d="M238.8,271.9L251.3,283.1" stroke="#9af2d5"/><path d="M393.2,366.6L374.6,361.9L389.6,358.9L408.3,363.6Z" fill="#fff" stroke="#fff" stroke-width="0.5"/><path d="M408.3,363.6L389.6,358.9" stroke="#5a5a9c"/><path d="M393.2,366.6L408.3,363.6" stroke="#5a5a9c"/><path d="M264.1,361.8L238.8,355.3L251.3,353.5L276.6,360Z" fill="#fff" stroke="#fff" stroke-width="0.5"/><path d="M264.1,361.8L238.8,355.3" stroke="#5a5aa4"/><path d="M238.8,355.3L251.3,353.5" stroke="#5b5bac"/><path d="M393.2,364.2L374.6,358.9L389.6,357L408.3,362.1Z" fill="#fff" stroke="#fff" stroke-width="0.5"/><path d="M408.3,362.1L389.6,357" stroke="#5a5a9c"/><path d="M393.2,364.2L408.3,362.1" stroke="#5a5aa4"/><path d="M314.4,364.6L289.1,358.1L302.3,355.9L327.6,362.3Z" fill="#fff" stroke="#fff" stroke-width="0.5"/><path d="M314.4,364.6L289.1,358.1" stroke="#5a5aa4"/><path d="M314.4,364.6L327.6,362.3" stroke="#5a5aa4"/><path d="M359.5,339.1L340.9,330.4L355.9,334.5L374.6,342.4Z" fill="#fff" stroke="#fff" stroke-width="0.5"/><path d="M359.5,339.1L340.9,330.4" stroke="#5c5cd2"/><path d="M340.9,330.4L355.9,334.5" stroke="#606fd6"/><path d="M314.4,356.9L289.1,349.7L302.3,349L327.6,356.2Z" fill="#fff" stroke="#fff" stroke-width="0.5"/><path d="M314.4,356.9L289.1,349.7" stroke="#5b5bb3"/><path d="M314.4,356.9L327.6,356.2" stroke="#5b5bb3"/><path d="M264.1,349.2L238.8,342L251.3,342.3L276.6,349.4Z" fill="#fff" stroke="#fff" stroke-width="0.5"/><path d="M264.1,349.2L238.8,342" stroke="#5c5cc3"/><path d="M238.8,342L251.3,342.3" stroke="#5c5ccb"/><path d="M276.6,293.7L251.3,283.1L263.8,294.2L289.1,304.9Z" fill="#fff" stroke="#fff" stroke-width="0.5"/><path d="M289.1,304.9L263.8,294.2" stroke="#6dafe3"/><path d="M251.3,283.1L263.8,294.2" stroke="#9af2d5"/><path d="M429.7,369L408.3,363.6L427.2,359.5L448.7,364.8Z" fill="#fff" stroke="#fff" stroke-width="0.5"/><path d="M429.7,369L408.3,363.6" stroke="#5a5a9c"/><path d="M408.3,363.6L427.2,359.5" stroke="#5a5a9c"/><path d="M393.2,350.4L374.6,342.4L389.6,345.7L408.3,353Z" fill="#fff" stroke="#fff" stroke-width="0.5"/><path d="M408.3,353L389.6,345.7" stroke="#5b5bb3"/><path d="M393.2,350.4L408.3,353" stroke="#5c5cd2"/><path d="M251.3,188.5L232.7,180.6L245.2,209L263.8,217.1Z" fill="#fff" stroke="#fff" stroke-width="0.5"/><path d="M263.8,217.1L245.2,209" stroke="#f4de7e"/><path d="M251.3,188.5L263.8,217.1" stroke="#a15f5f"/><path d="M429.7,367.8L408.3,362.1L427.2,358.5L448.7,364.1Z" fill="#fff" stroke="#fff" stroke-width="0.5"/><path d="M429.7,367.8L408.3,362.1" stroke="#5a5a9c"/><path d="M408.3,362.1L427.2,358.5" stroke="#5a5a9c"/><path d="M289.1,233.4L263.8,217.1L277.1,238L302.3,254Z" fill="#fff" stroke="#fff" stroke-width="0.5"/><path d="M289.1,233.4L263.8,217.1" stroke="#e1f798"/><path d="M263.8,217.1L277.1,238" stroke="#f4de7e"/><path d="M429.7,360.6L408.3,353L427.2,352.2L448.7,359.1Z" fill="#fff" stroke="#fff" stroke-width="0.5"/><path d="M429.7,360.6L408.3,353" stroke="#5b5bac"/><path d="M408.3,353L427.2,352.2" stroke="#5b5bb3"/><path d="M220.2,152.3L201.5,144.6L214,172.8L232.7,180.6Z" fill="#fff" stroke="#fff" stroke-width="0.5"/><path d="M220.2,152.3L201.5,144.6" stroke="#a15f5f"/><path d="M201.5,144.6L214,172.8" stroke="#995e5e"/><path d="M470.1,370.1L448.7,364.8L467.7,360.6L489.1,365.9Z" fill="#fff" stroke="#fff" stroke-width="0.5"/><path d="M489.1,365.9L467.7,360.6" stroke="#5a5a9c"/><path d="M470.1,370.1L489.1,365.9" stroke="#5a5a9c"/><path d="M470.1,369.7L448.7,364.1L467.7,360.3L489.1,365.7Z" fill="#fff" stroke="#fff" stroke-width="0.5"/><path d="M489.1,365.7L467.7,360.3" stroke="#5a5a9c"/><path d="M470.1,369.7L489.1,365.7" stroke="#5a5a9c"/><path d="M470.1,366.1L448.7,359.1L467.7,357.6L489.1,363.9Z" fill="#fff" stroke="#fff" stroke-width="0.5"/><path d="M489.1,363.9L467.7,357.6" stroke="#5a5a9c"/><path d="M470.1,366.1L489.1,363.9" stroke="#5b5bac"/><path d="M429.7,348.8L408.3,338.2L427.2,341.9L448.7,351Z" fill="#fff" stroke="#fff" stroke-width="0.5"/><path d="M429.7,348.8L408.3,338.2" stroke="#5b5bbb"/><path d="M408.3,338.2L427.2,341.9" stroke="#5e66d4"/><path d="M393.2,328L374.6,315.9L389.6,327.7L408.3,338.2Z" fill="#fff" stroke="#fff" stroke-width="0.5"/><path d="M408.3,338.2L389.6,327.7" stroke="#5e66d4"/><path d="M393.2,328L408.3,338.2" stroke="#6dafe3"/><path d="M514.4,372.2L489.1,365.9L514.9,360.1L540.1,366.3Z" fill="#fff" stroke="#fff" stroke-width="0.5"/><path d="M514.4,372.2L489.1,365.9" stroke="#5a5a9c"/><path d="M489.1,365.9L514.9,360.1" stroke="#5a5a9c"/><path d="M514.4,372L489.1,365.7L514.9,360L540.1,366.2Z" fill="#fff" stroke="#fff" stroke-width="0.5"/><path d="M514.4,372L489.1,365.7" stroke="#5a5a9c"/><path d="M489.1,365.7L514.9,360" stroke="#5a5a9c"/><path d="M327.6,270L302.3,254L315.6,274.5L340.9,290.3Z" fill="#fff" stroke="#fff" stroke-width="0.5"/><path d="M340.9,290.3L315.6,274.5" stroke="#78e7ee"/><path d="M327.6,270L340.9,290.3" stroke="#e1f798"/><path d="M470.1,360L448.7,351L467.7,353.1L489.1,360.6Z" fill="#fff" stroke="#fff" stroke-width="0.5"/><path d="M489.1,360.6L467.7,353.1" stroke="#5a5aa4"/><path d="M470.1,360L489.1,360.6" stroke="#5b5bbb"/><path d="M514.4,370.7L489.1,363.9L514.9,358.8L540.1,365.4Z" fill="#fff" stroke="#fff" stroke-width="0.5"/><path d="M514.4,370.7L489.1,363.9" stroke="#5a5a9c"/><path d="M489.1,363.9L514.9,358.8" stroke="#5a5a9c"/><path d="M565.4,372.5L540.1,366.3L565.9,360.5L591.2,366.7Z" fill="#fff" stroke="#fff" stroke-width="0.5"/><path d="M591.2,366.7L565.9,360.5" stroke="#5a5a9c"/><path d="M565.4,372.5L591.2,366.7" stroke="#5a5a9c"/><path d="M565.4,372.5L540.1,366.2L565.9,360.4L591.2,366.7Z" fill="#fff" stroke="#fff" stroke-width="0.5"/><path d="M591.2,366.7L565.9,360.4" stroke="#5a5a9c"/><path d="M565.4,372.5L591.2,366.7" stroke="#5a5a9c"/><path d="M346.2,367.2L327.6,362.3L340.9,360.1L359.5,364.9Z" fill="#fff" stroke="#fff" stroke-width="0.5"/><path d="M359.5,364.9L340.9,360.1" stroke="#5a5a9c"/><path d="M327.6,362.3L340.9,360.1" stroke="#5a5aa4"/><path d="M565.4,372L540.1,365.4L565.9,360.2L591.2,366.5Z" fill="#fff" stroke="#fff" stroke-width="0.5"/><path d="M591.2,366.5L565.9,360.2" stroke="#5a5a9c"/><path d="M565.4,372L591.2,366.5" stroke="#5a5a9c"/><path d="M514.4,368.3L489.1,360.6L514.9,356.8L540.1,363.9Z" fill="#fff" stroke="#fff" stroke-width="0.5"/><path d="M514.4,368.3L489.1,360.6" stroke="#5a5a9c"/><path d="M489.1,360.6L514.9,356.8" stroke="#5a5aa4"/><path d="M565.4,371.1L540.1,363.9L565.9,359.6L591.2,366.2Z" fill="#fff" stroke="#fff" stroke-width="0.5"/><path d="M591.2,366.2L565.9,359.6" stroke="#5a5a9c"/><path d="M565.4,371.1L591.2,366.2" stroke="#5a5a9c"/><path d="M359.5,304.1L340.9,290.3L355.9,303.7L374.6,315.9Z" fill="#fff" stroke="#fff" stroke-width="0.5"/><path d="M359.5,304.1L340.9,290.3" stroke="#6dafe3"/><path d="M340.9,290.3L355.9,303.7" stroke="#78e7ee"/><path d="M346.2,361.8L327.6,356.2L340.9,355.4L359.5,360.9Z" fill="#fff" stroke="#fff" stroke-width="0.5"/><path d="M359.5,360.9L340.9,355.4" stroke="#5a5aa4"/><path d="M327.6,356.2L340.9,355.4" stroke="#5b5bb3"/><path d="M314.4,315.6L289.1,304.9L302.3,312.4L327.6,323Z" fill="#fff" stroke="#fff" stroke-width="0.5"/><path d="M314.4,315.6L289.1,304.9" stroke="#6dafe3"/><path d="M314.4,315.6L327.6,323" stroke="#6dafe3"/><path d="M301.9,366.5L276.6,360L289.1,358.1L314.4,364.6Z" fill="#fff" stroke="#fff" stroke-width="0.5"/><path d="M314.4,364.6L289.1,358.1" stroke="#5a5aa4"/><path d="M301.9,366.5L314.4,364.6" stroke="#5a5aa4"/><path d="M378.1,369.7L359.5,364.9L374.6,361.9L393.2,366.6Z" fill="#fff" stroke="#fff" stroke-width="0.5"/><path d="M378.1,369.7L359.5,364.9" stroke="#5a5a9c"/><path d="M378.1,369.7L393.2,366.6" stroke="#5a5a9c"/><path d="M378.1,366.4L359.5,360.9L374.6,358.9L393.2,364.2Z" fill="#fff" stroke="#fff" stroke-width="0.5"/><path d="M378.1,366.4L359.5,360.9" stroke="#5a5aa4"/><path d="M378.1,366.4L393.2,364.2" stroke="#5a5aa4"/><path d="M301.9,356.6L276.6,349.4L289.1,349.7L314.4,356.9Z" fill="#fff" stroke="#fff" stroke-width="0.5"/><path d="M314.4,356.9L289.1,349.7" stroke="#5b5bb3"/><path d="M301.9,356.6L314.4,356.9" stroke="#5c5cc3"/><path d="M346.2,332.3L327.6,323L340.9,330.4L359.5,339.1Z" fill="#fff" stroke="#fff" stroke-width="0.5"/><path d="M359.5,339.1L340.9,330.4" stroke="#5c5cd2"/><path d="M327.6,323L340.9,330.4" stroke="#6dafe3"/><path d="M264.1,282.4L238.8,271.9L251.3,283.1L276.6,293.7Z" fill="#fff" stroke="#fff" stroke-width="0.5"/><path d="M264.1,282.4L238.8,271.9" stroke="#8af1e2"/><path d="M238.8,271.9L251.3,283.1" stroke="#9af2d5"/><path d="M378.1,347.8L359.5,339.1L374.6,342.4L393.2,350.4Z" fill="#fff" stroke="#fff" stroke-width="0.5"/><path d="M378.1,347.8L359.5,339.1" stroke="#5c5cd2"/><path d="M378.1,347.8L393.2,350.4" stroke="#5c5cd2"/><path d="M414.6,372L393.2,366.6L408.3,363.6L429.7,369Z" fill="#fff" stroke="#fff" stroke-width="0.5"/><path d="M429.7,369L408.3,363.6" stroke="#5a5a9c"/><path d="M393.2,366.6L408.3,363.6" stroke="#5a5a9c"/><path d="M414.6,370.2L393.2,364.2L408.3,362.1L429.7,367.8Z" fill="#fff" stroke="#fff" stroke-width="0.5"/><path d="M429.7,367.8L408.3,362.1" stroke="#5a5a9c"/><path d="M393.2,364.2L408.3,362.1" stroke="#5a5aa4"/><path d="M333,369.5L314.4,364.6L327.6,362.3L346.2,367.2Z" fill="#fff" stroke="#fff" stroke-width="0.5"/><path d="M333,369.5L314.4,364.6" stroke="#5a5aa4"/><path d="M314.4,364.6L327.6,362.3" stroke="#5a5aa4"/><path d="M414.6,359L393.2,350.4L408.3,353L429.7,360.6Z" fill="#fff" stroke="#fff" stroke-width="0.5"/><path d="M429.7,360.6L408.3,353" stroke="#5b5bac"/><path d="M393.2,350.4L408.3,353" stroke="#5c5cd2"/><path d="M238.8,159.9L220.2,152.3L232.7,180.6L251.3,188.5Z" fill="#fff" stroke="#fff" stroke-width="0.5"/><path d="M238.8,159.9L220.2,152.3" stroke="#a15f5f"/><path d="M238.8,159.9L251.3,188.5" stroke="#a15f5f"/><path d="M333,362.7L314.4,356.9L327.6,356.2L346.2,361.8Z" fill="#fff" stroke="#fff" stroke-width="0.5"/><path d="M333,362.7L314.4,356.9" stroke="#5b5bac"/><path d="M314.4,356.9L327.6,356.2" stroke="#5b5bb3"/><path d="M276.6,204.6L251.3,188.5L263.8,217.1L289.1,233.4Z" fill="#fff" stroke="#fff" stroke-width="0.5"/><path d="M289.1,233.4L263.8,217.1" stroke="#e1f798"/><path d="M251.3,188.5L263.8,217.1" stroke="#a15f5f"/><path d="M451.1,374.3L429.7,369L448.7,364.8L470.1,370.1Z" fill="#fff" stroke="#fff" stroke-width="0.5"/><path d="M451.1,374.3L429.7,369" stroke="#5a5a9c"/><path d="M451.1,374.3L470.1,370.1" stroke="#5a5a9c"/><path d="M451.1,373.6L429.7,367.8L448.7,364.1L470.1,369.7Z" fill="#fff" stroke="#fff" stroke-width="0.5"/><path d="M451.1,373.6L429.7,367.8" stroke="#5a5a9c"/><path d="M451.1,373.6L470.1,369.7" stroke="#5a5a9c"/><path d="M289.3,368.3L264.1,361.8L276.6,360L301.9,366.5Z" fill="#fff" stroke="#fff" stroke-width="0.5"/><path d="M289.3,368.3L264.1,361.8" stroke="#5a5aa4"/><path d="M289.3,368.3L301.9,366.5" stroke="#5a5aa4"/><path d="M451.1,368.2L429.7,360.6L448.7,359.1L470.1,366.1Z" fill="#fff" stroke="#fff" stroke-width="0.5"/><path d="M451.1,368.2L429.7,360.6" stroke="#5b5bac"/><path d="M451.1,368.2L470.1,366.1" stroke="#5b5bac"/><path d="M378.1,317.9L359.5,304.1L374.6,315.9L393.2,328Z" fill="#fff" stroke="#fff" stroke-width="0.5"/><path d="M378.1,317.9L359.5,304.1" stroke="#6dafe3"/><path d="M378.1,317.9L393.2,328" stroke="#6dafe3"/><path d="M414.6,340.8L393.2,328L408.3,338.2L429.7,348.8Z" fill="#fff" stroke="#fff" stroke-width="0.5"/><path d="M429.7,348.8L408.3,338.2" stroke="#5b5bbb"/><path d="M393.2,328L408.3,338.2" stroke="#6dafe3"/><path d="M301.9,304.3L276.6,293.7L289.1,304.9L314.4,315.6Z" fill="#fff" stroke="#fff" stroke-width="0.5"/><path d="M314.4,315.6L289.1,304.9" stroke="#6dafe3"/><path d="M301.9,304.3L314.4,315.6" stroke="#8af1e2"/><path d="M314.4,249.6L289.1,233.4L302.3,254L327.6,270Z" fill="#fff" stroke="#fff" stroke-width="0.5"/><path d="M314.4,249.6L289.1,233.4" stroke="#e1f798"/><path d="M314.4,249.6L327.6,270" stroke="#e1f798"/><path d="M289.3,356.3L264.1,349.2L276.6,349.4L301.9,356.6Z" fill="#fff" stroke="#fff" stroke-width="0.5"/><path d="M289.3,356.3L264.1,349.2" stroke="#5c5cc3"/><path d="M289.3,356.3L301.9,356.6" stroke="#5c5cc3"/><path d="M364.9,372L346.2,367.2L359.5,364.9L378.1,369.7Z" fill="#fff" stroke="#fff" stroke-width="0.5"/><path d="M378.1,369.7L359.5,364.9" stroke="#5a5a9c"/><path d="M364.9,372L378.1,369.7" stroke="#5a5aa4"/><path d="M346.2,285L327.6,270L340.9,290.3L359.5,304.1Z" fill="#fff" stroke="#fff" stroke-width="0.5"/><path d="M359.5,304.1L340.9,290.3" stroke="#6dafe3"/><path d="M327.6,270L340.9,290.3" stroke="#e1f798"/><path d="M451.1,359.4L429.7,348.8L448.7,351L470.1,360Z" fill="#fff" stroke="#fff" stroke-width="0.5"/><path d="M451.1,359.4L429.7,348.8" stroke="#5b5bbb"/><path d="M451.1,359.4L470.1,360" stroke="#5b5bbb"/><path d="M364.9,367.4L346.2,361.8L359.5,360.9L378.1,366.4Z" fill="#fff" stroke="#fff" stroke-width="0.5"/><path d="M378.1,366.4L359.5,360.9" stroke="#5a5aa4"/><path d="M364.9,367.4L378.1,366.4" stroke="#5b5bac"/><path d="M495.4,376.4L470.1,370.1L489.1,365.9L514.4,372.2Z" fill="#fff" stroke="#fff" stroke-width="0.5"/><path d="M514.4,372.2L489.1,365.9" stroke="#5a5a9c"/><path d="M470.1,370.1L489.1,365.9" stroke="#5a5a9c"/><path d="M495.4,376.1L470.1,369.7L489.1,365.7L514.4,372Z" fill="#fff" stroke="#fff" stroke-width="0.5"/><path d="M514.4,372L489.1,365.7" stroke="#5a5a9c"/><path d="M470.1,369.7L489.1,365.7" stroke="#5a5a9c"/><path d="M495.4,373.4L470.1,366.1L489.1,363.9L514.4,370.7Z" fill="#fff" stroke="#fff" stroke-width="0.5"/><path d="M514.4,370.7L489.1,363.9" stroke="#5a5a9c"/><path d="M470.1,366.1L489.1,363.9" stroke="#5b5bac"/><path d="M584.1,377.1L565.4,372.5L591.2,366.7L609.8,371.2Z" fill="#fff" stroke="#fff" stroke-width="0.5"/><path d="M609.8,371.2L591.2,366.7" stroke="#5a5a9c"/><path d="M565.4,372.5L591.2,366.7" stroke="#5a5a9c"/><path d="M584.1,377.1L565.4,372.5L591.2,366.7L609.8,371.2Z" fill="#fff" stroke="#fff" stroke-width="0.5"/><path d="M609.8,371.2L591.2,366.7" stroke="#5a5a9c"/><path d="M565.4,372.5L591.2,366.7" stroke="#5a5a9c"/><path d="M584.1,376.8L565.4,372L591.2,366.5L609.8,371.1Z" fill="#fff" stroke="#fff" stroke-width="0.5"/><path d="M609.8,371.1L591.2,366.5" stroke="#5a5a9c"/><path d="M565.4,372L591.2,366.5" stroke="#5a5a9c"/><path d="M584.1,376L565.4,371.1L591.2,366.2L609.8,370.9Z" fill="#fff" stroke="#fff" stroke-width="0.5"/><path d="M609.8,370.9L591.2,366.2" stroke="#5a5a9c"/><path d="M565.4,371.1L591.2,366.2" stroke="#5a5a9c"/><path d="M495.4,368.9L470.1,360L489.1,360.6L514.4,368.3Z" fill="#fff" stroke="#fff" stroke-width="0.5"/><path d="M514.4,368.3L489.1,360.6" stroke="#5a5a9c"/><path d="M470.1,360L489.1,360.6" stroke="#5b5bbb"/><path d="M333,325.5L314.4,315.6L327.6,323L346.2,332.3Z" fill="#fff" stroke="#fff" stroke-width="0.5"/><path d="M333,325.5L314.4,315.6" stroke="#6894dd"/><path d="M314.4,315.6L327.6,323" stroke="#6dafe3"/><path d="M539.7,378.4L514.4,372.2L540.1,366.3L565.4,372.5Z" fill="#fff" stroke="#fff" stroke-width="0.5"/><path d="M539.7,378.4L514.4,372.2" stroke="#5a5a9c"/><path d="M539.7,378.4L565.4,372.5" stroke="#5a5a9c"/><path d="M539.7,378.3L514.4,372L540.1,366.2L565.4,372.5Z" fill="#fff" stroke="#fff" stroke-width="0.5"/><path d="M539.7,378.3L514.4,372" stroke="#5a5a9c"/><path d="M539.7,378.3L565.4,372.5" stroke="#5a5a9c"/><path d="M539.7,377.6L514.4,370.7L540.1,365.4L565.4,372Z" fill="#fff" stroke="#fff" stroke-width="0.5"/><path d="M539.7,377.6L514.4,370.7" stroke="#5a5a9c"/><path d="M539.7,377.6L565.4,372" stroke="#5a5a9c"/><path d="M399.6,375.1L378.1,369.7L393.2,366.6L414.6,372Z" fill="#fff" stroke="#fff" stroke-width="0.5"/><path d="M399.6,375.1L378.1,369.7" stroke="#5a5a9c"/><path d="M378.1,369.7L393.2,366.6" stroke="#5a5a9c"/><path d="M539.7,376L514.4,368.3L540.1,363.9L565.4,371.1Z" fill="#fff" stroke="#fff" stroke-width="0.5"/><path d="M539.7,376L514.4,368.3" stroke="#5a5a9c"/><path d="M539.7,376L565.4,371.1" stroke="#5a5a9c"/><path d="M320.5,371.4L301.9,366.5L314.4,364.6L333,369.5Z" fill="#fff" stroke="#fff" stroke-width="0.5"/><path d="M333,369.5L314.4,364.6" stroke="#5a5aa4"/><path d="M301.9,366.5L314.4,364.6" stroke="#5a5aa4"/><path d="M399.6,372.6L378.1,366.4L393.2,364.2L414.6,370.2Z" fill="#fff" stroke="#fff" stroke-width="0.5"/><path d="M399.6,372.6L378.1,366.4" stroke="#5a5aa4"/><path d="M378.1,366.4L393.2,364.2" stroke="#5a5aa4"/><path d="M364.9,341.5L346.2,332.3L359.5,339.1L378.1,347.8Z" fill="#fff" stroke="#fff" stroke-width="0.5"/><path d="M378.1,347.8L359.5,339.1" stroke="#5c5cd2"/><path d="M364.9,341.5L378.1,347.8" stroke="#6894dd"/><path d="M320.5,362.4L301.9,356.6L314.4,356.9L333,362.7Z" fill="#fff" stroke="#fff" stroke-width="0.5"/><path d="M333,362.7L314.4,356.9" stroke="#5b5bac"/><path d="M301.9,356.6L314.4,356.9" stroke="#5c5cc3"/><path d="M399.6,357.4L378.1,347.8L393.2,350.4L414.6,359Z" fill="#fff" stroke="#fff" stroke-width="0.5"/><path d="M399.6,357.4L378.1,347.8" stroke="#5b5bbb"/><path d="M378.1,347.8L393.2,350.4" stroke="#5c5cd2"/><path d="M351.6,374.4L333,369.5L346.2,367.2L364.9,372Z" fill="#fff" stroke="#fff" stroke-width="0.5"/><path d="M351.6,374.4L333,369.5" stroke="#5a5aa4"/><path d="M351.6,374.4L364.9,372" stroke="#5a5aa4"/><path d="M436.1,377.5L414.6,372L429.7,369L451.1,374.3Z" fill="#fff" stroke="#fff" stroke-width="0.5"/><path d="M451.1,374.3L429.7,369" stroke="#5a5a9c"/><path d="M436.1,377.5L451.1,374.3" stroke="#5a5a9c"/><path d="M436.1,376.2L414.6,370.2L429.7,367.8L451.1,373.6Z" fill="#fff" stroke="#fff" stroke-width="0.5"/><path d="M451.1,373.6L429.7,367.8" stroke="#5a5a9c"/><path d="M436.1,376.2L451.1,373.6" stroke="#5a5aa4"/><path d="M351.6,368.4L333,362.7L346.2,361.8L364.9,367.4Z" fill="#fff" stroke="#fff" stroke-width="0.5"/><path d="M351.6,368.4L333,362.7" stroke="#5b5bac"/><path d="M351.6,368.4L364.9,367.4" stroke="#5b5bac"/><path d="M289.3,292.9L264.1,282.4L276.6,293.7L301.9,304.3Z" fill="#fff" stroke="#fff" stroke-width="0.5"/><path d="M289.3,292.9L264.1,282.4" stroke="#8af1e2"/><path d="M289.3,292.9L301.9,304.3" stroke="#8af1e2"/><path d="M436.1,367.6L414.6,359L429.7,360.6L451.1,368.2Z" fill="#fff" stroke="#fff" stroke-width="0.5"/><path d="M451.1,368.2L429.7,360.6" stroke="#5b5bac"/><path d="M436.1,367.6L451.1,368.2" stroke="#5b5bbb"/><path d="M264.1,175.7L238.8,159.9L251.3,188.5L276.6,204.6Z" fill="#fff" stroke="#fff" stroke-width="0.5"/><path d="M264.1,175.7L238.8,159.9" stroke="#d36565"/><path d="M238.8,159.9L251.3,188.5" stroke="#a15f5f"/><path d="M399.6,332.9L378.1,317.9L393.2,328L414.6,340.8Z" fill="#fff" stroke="#fff" stroke-width="0.5"/><path d="M399.6,332.9L378.1,317.9" stroke="#6278d8"/><path d="M378.1,317.9L393.2,328" stroke="#6dafe3"/><path d="M364.9,300.1L346.2,285L359.5,304.1L378.1,317.9Z" fill="#fff" stroke="#fff" stroke-width="0.5"/><path d="M378.1,317.9L359.5,304.1" stroke="#6dafe3"/><path d="M364.9,300.1L378.1,317.9" stroke="#aaf3c7"/><path d="M301.9,220.6L276.6,204.6L289.1,233.4L314.4,249.6Z" fill="#fff" stroke="#fff" stroke-width="0.5"/><path d="M314.4,249.6L289.1,233.4" stroke="#e1f798"/><path d="M301.9,220.6L314.4,249.6" stroke="#d36565"/><path d="M333,266L314.4,249.6L327.6,270L346.2,285Z" fill="#fff" stroke="#fff" stroke-width="0.5"/><path d="M333,266L314.4,249.6" stroke="#aaf3c7"/><path d="M314.4,249.6L327.6,270" stroke="#e1f798"/><path d="M436.1,353.7L414.6,340.8L429.7,348.8L451.1,359.4Z" fill="#fff" stroke="#fff" stroke-width="0.5"/><path d="M451.1,359.4L429.7,348.8" stroke="#5b5bbb"/><path d="M436.1,353.7L451.1,359.4" stroke="#6278d8"/><path d="M308,373.2L289.3,368.3L301.9,366.5L320.5,371.4Z" fill="#fff" stroke="#fff" stroke-width="0.5"/><path d="M308,373.2L289.3,368.3" stroke="#5a5aa4"/><path d="M289.3,368.3L301.9,366.5" stroke="#5a5aa4"/><path d="M386.3,377.6L364.9,372L378.1,369.7L399.6,375.1Z" fill="#fff" stroke="#fff" stroke-width="0.5"/><path d="M399.6,375.1L378.1,369.7" stroke="#5a5a9c"/><path d="M364.9,372L378.1,369.7" stroke="#5a5aa4"/><path d="M320.5,314.4L301.9,304.3L314.4,315.6L333,325.5Z" fill="#fff" stroke="#fff" stroke-width="0.5"/><path d="M333,325.5L314.4,315.6" stroke="#6894dd"/><path d="M301.9,304.3L314.4,315.6" stroke="#8af1e2"/><path d="M476.4,380.6L451.1,374.3L470.1,370.1L495.4,376.4Z" fill="#fff" stroke="#fff" stroke-width="0.5"/><path d="M476.4,380.6L451.1,374.3" stroke="#5a5a9c"/><path d="M451.1,374.3L470.1,370.1" stroke="#5a5a9c"/><path d="M476.4,380.1L451.1,373.6L470.1,369.7L495.4,376.1Z" fill="#fff" stroke="#fff" stroke-width="0.5"/><path d="M476.4,380.1L451.1,373.6" stroke="#5a5a9c"/><path d="M451.1,373.6L470.1,369.7" stroke="#5a5a9c"/><path d="M386.3,373.8L364.9,367.4L378.1,366.4L399.6,372.6Z" fill="#fff" stroke="#fff" stroke-width="0.5"/><path d="M399.6,372.6L378.1,366.4" stroke="#5a5aa4"/><path d="M364.9,367.4L378.1,366.4" stroke="#5b5bac"/><path d="M476.4,376.1L451.1,368.2L470.1,366.1L495.4,373.4Z" fill="#fff" stroke="#fff" stroke-width="0.5"/><path d="M476.4,376.1L451.1,368.2" stroke="#5a5aa4"/><path d="M451.1,368.2L470.1,366.1" stroke="#5b5bac"/><path d="M308,362.2L289.3,356.3L301.9,356.6L320.5,362.4Z" fill="#fff" stroke="#fff" stroke-width="0.5"/><path d="M308,362.2L289.3,356.3" stroke="#5b5bbb"/><path d="M289.3,356.3L301.9,356.6" stroke="#5c5cc3"/><path d="M602.7,381.7L584.1,377.1L609.8,371.2L628.4,375.8Z" fill="#fff" stroke="#fff" stroke-width="0.5"/><path d="M628.4,375.8L609.8,371.2" stroke="#5a5a9c"/><path d="M602.7,381.7L628.4,375.8" stroke="#5a5a9c"/><path d="M602.7,381.7L584.1,377.1L609.8,371.2L628.4,375.8Z" fill="#fff" stroke="#fff" stroke-width="0.5"/><path d="M628.4,375.8L609.8,371.2" stroke="#5a5a9c"/><path d="M602.7,381.7L628.4,375.8" stroke="#5a5a9c"/><path d="M602.7,381.5L584.1,376.8L609.8,371.1L628.4,375.8Z" fill="#fff" stroke="#fff" stroke-width="0.5"/><path d="M628.4,375.8L609.8,371.1" stroke="#5a5a9c"/><path d="M602.7,381.5L628.4,375.8" stroke="#5a5a9c"/><path d="M602.7,380.9L584.1,376L609.8,370.9L628.4,375.6Z" fill="#fff" stroke="#fff" stroke-width="0.5"/><path d="M628.4,375.6L609.8,370.9" stroke="#5a5a9c"/><path d="M602.7,380.9L628.4,375.6" stroke="#5a5a9c"/><path d="M351.6,335.3L333,325.5L346.2,332.3L364.9,341.5Z" fill="#fff" stroke="#fff" stroke-width="0.5"/><path d="M351.6,335.3L333,325.5" stroke="#6894dd"/><path d="M351.6,335.3L364.9,341.5" stroke="#6894dd"/><path d="M476.4,369.4L451.1,359.4L470.1,360L495.4,368.9Z" fill="#fff" stroke="#fff" stroke-width="0.5"/><path d="M476.4,369.4L451.1,359.4" stroke="#5b5bac"/><path d="M451.1,359.4L470.1,360" stroke="#5b5bbb"/><path d="M339.1,376.3L320.5,371.4L333,369.5L351.6,374.4Z" fill="#fff" stroke="#fff" stroke-width="0.5"/><path d="M351.6,374.4L333,369.5" stroke="#5a5aa4"/><path d="M339.1,376.3L351.6,374.4" stroke="#5a5aa4"/><path d="M386.3,352.4L364.9,341.5L378.1,347.8L399.6,357.4Z" fill="#fff" stroke="#fff" stroke-width="0.5"/><path d="M399.6,357.4L378.1,347.8" stroke="#5b5bbb"/><path d="M364.9,341.5L378.1,347.8" stroke="#6894dd"/><path d="M339.1,368.2L320.5,362.4L333,362.7L351.6,368.4Z" fill="#fff" stroke="#fff" stroke-width="0.5"/><path d="M351.6,368.4L333,362.7" stroke="#5b5bac"/><path d="M339.1,368.2L351.6,368.4" stroke="#5b5bbb"/><path d="M520.7,382.6L495.4,376.4L514.4,372.2L539.7,378.4Z" fill="#fff" stroke="#fff" stroke-width="0.5"/><path d="M539.7,378.4L514.4,372.2" stroke="#5a5a9c"/><path d="M520.7,382.6L539.7,378.4" stroke="#5a5a9c"/><path d="M520.7,382.5L495.4,376.1L514.4,372L539.7,378.3Z" fill="#fff" stroke="#fff" stroke-width="0.5"/><path d="M539.7,378.3L514.4,372" stroke="#5a5a9c"/><path d="M520.7,382.5L539.7,378.3" stroke="#5a5a9c"/><path d="M421,380.6L399.6,375.1L414.6,372L436.1,377.5Z" fill="#fff" stroke="#fff" stroke-width="0.5"/><path d="M421,380.6L399.6,375.1" stroke="#5a5a9c"/><path d="M421,380.6L436.1,377.5" stroke="#5a5a9c"/><path d="M520.7,380.8L495.4,373.4L514.4,370.7L539.7,377.6Z" fill="#fff" stroke="#fff" stroke-width="0.5"/><path d="M539.7,377.6L514.4,370.7" stroke="#5a5a9c"/><path d="M520.7,380.8L539.7,377.6" stroke="#5a5aa4"/><path d="M558.3,383L539.7,378.4L565.4,372.5L584.1,377.1Z" fill="#fff" stroke="#fff" stroke-width="0.5"/><path d="M558.3,383L539.7,378.4" stroke="#5a5a9c"/><path d="M539.7,378.4L565.4,372.5" stroke="#5a5a9c"/><path d="M558.3,382.9L539.7,378.3L565.4,372.5L584.1,377.1Z" fill="#fff" stroke="#fff" stroke-width="0.5"/><path d="M558.3,382.9L539.7,378.3" stroke="#5a5a9c"/><path d="M539.7,378.3L565.4,372.5" stroke="#5a5a9c"/><path d="M558.3,382.4L539.7,377.6L565.4,372L584.1,376.8Z" fill="#fff" stroke="#fff" stroke-width="0.5"/><path d="M558.3,382.4L539.7,377.6" stroke="#5a5a9c"/><path d="M539.7,377.6L565.4,372" stroke="#5a5a9c"/><path d="M421,378.8L399.6,372.6L414.6,370.2L436.1,376.2Z" fill="#fff" stroke="#fff" stroke-width="0.5"/><path d="M421,378.8L399.6,372.6" stroke="#5a5aa4"/><path d="M421,378.8L436.1,376.2" stroke="#5a5aa4"/><path d="M558.3,381.1L539.7,376L565.4,371.1L584.1,376Z" fill="#fff" stroke="#fff" stroke-width="0.5"/><path d="M558.3,381.1L539.7,376" stroke="#5a5a9c"/><path d="M539.7,376L565.4,371.1" stroke="#5a5a9c"/><path d="M520.7,377.7L495.4,368.9L514.4,368.3L539.7,376Z" fill="#fff" stroke="#fff" stroke-width="0.5"/><path d="M539.7,376L514.4,368.3" stroke="#5a5a9c"/><path d="M520.7,377.7L539.7,376" stroke="#5b5bac"/><path d="M421,367L399.6,357.4L414.6,359L436.1,367.6Z" fill="#fff" stroke="#fff" stroke-width="0.5"/><path d="M421,367L399.6,357.4" stroke="#5b5bbb"/><path d="M421,367L436.1,367.6" stroke="#5b5bbb"/><path d="M373.1,380L351.6,374.4L364.9,372L386.3,377.6Z" fill="#fff" stroke="#fff" stroke-width="0.5"/><path d="M373.1,380L351.6,374.4" stroke="#5a5a9c"/><path d="M351.6,374.4L364.9,372" stroke="#5a5aa4"/><path d="M373.1,375.1L351.6,368.4L364.9,367.4L386.3,373.8Z" fill="#fff" stroke="#fff" stroke-width="0.5"/><path d="M373.1,375.1L351.6,368.4" stroke="#5b5bac"/><path d="M351.6,368.4L364.9,367.4" stroke="#5b5bac"/><path d="M386.3,317.8L364.9,300.1L378.1,317.9L399.6,332.9Z" fill="#fff" stroke="#fff" stroke-width="0.5"/><path d="M399.6,332.9L378.1,317.9" stroke="#6278d8"/><path d="M364.9,300.1L378.1,317.9" stroke="#aaf3c7"/><path d="M351.6,282.3L333,266L346.2,285L364.9,300.1Z" fill="#fff" stroke="#fff" stroke-width="0.5"/><path d="M351.6,282.3L333,266" stroke="#aaf3c7"/><path d="M351.6,282.3L364.9,300.1" stroke="#aaf3c7"/><path d="M308,303.4L289.3,292.9L301.9,304.3L320.5,314.4Z" fill="#fff" stroke="#fff" stroke-width="0.5"/><path d="M308,303.4L289.3,292.9" stroke="#76ddec"/><path d="M289.3,292.9L301.9,304.3" stroke="#8af1e2"/><path d="M421,348L399.6,332.9L414.6,340.8L436.1,353.7Z" fill="#fff" stroke="#fff" stroke-width="0.5"/><path d="M421,348L399.6,332.9" stroke="#6278d8"/><path d="M421,348L436.1,353.7" stroke="#6278d8"/><path d="M461.3,383.7L436.1,377.5L451.1,374.3L476.4,380.6Z" fill="#fff" stroke="#fff" stroke-width="0.5"/><path d="M476.4,380.6L451.1,374.3" stroke="#5a5a9c"/><path d="M436.1,377.5L451.1,374.3" stroke="#5a5a9c"/><path d="M461.3,382.9L436.1,376.2L451.1,373.6L476.4,380.1Z" fill="#fff" stroke="#fff" stroke-width="0.5"/><path d="M476.4,380.1L451.1,373.6" stroke="#5a5a9c"/><path d="M436.1,376.2L451.1,373.6" stroke="#5a5aa4"/><path d="M339.1,324.6L320.5,314.4L333,325.5L351.6,335.3Z" fill="#fff" stroke="#fff" stroke-width="0.5"/><path d="M351.6,335.3L333,325.5" stroke="#6894dd"/><path d="M339.1,324.6L351.6,335.3" stroke="#76ddec"/><path d="M326.6,378.1L308,373.2L320.5,371.4L339.1,376.3Z" fill="#fff" stroke="#fff" stroke-width="0.5"/><path d="M326.6,378.1L308,373.2" stroke="#5a5aa4"/><path d="M326.6,378.1L339.1,376.3" stroke="#5a5aa4"/><path d="M320.5,237.6L301.9,220.6L314.4,249.6L333,266Z" fill="#fff" stroke="#fff" stroke-width="0.5"/><path d="M333,266L314.4,249.6" stroke="#aaf3c7"/><path d="M301.9,220.6L314.4,249.6" stroke="#d36565"/><path d="M461.3,376.5L436.1,367.6L451.1,368.2L476.4,376.1Z" fill="#fff" stroke="#fff" stroke-width="0.5"/><path d="M476.4,376.1L451.1,368.2" stroke="#5a5aa4"/><path d="M436.1,367.6L451.1,368.2" stroke="#5b5bbb"/><path d="M617.5,385.3L602.7,381.7L628.4,375.8L643.2,379.5Z" fill="#fff" stroke="#fff" stroke-width="0.5"/><path d="M643.2,379.5L628.4,375.8" stroke="#5a5a9c"/><path d="M602.7,381.7L628.4,375.8" stroke="#5a5a9c"/><path d="M617.5,385.3L602.7,381.7L628.4,375.8L643.2,379.5Z" fill="#fff" stroke="#fff" stroke-width="0.5"/><path d="M643.2,379.5L628.4,375.8" stroke="#5a5a9c"/><path d="M602.7,381.7L628.4,375.8" stroke="#5a5a9c"/><path d="M289.3,191.6L264.1,175.7L276.6,204.6L301.9,220.6Z" fill="#fff" stroke="#fff" stroke-width="0.5"/><path d="M289.3,191.6L264.1,175.7" stroke="#d36565"/><path d="M289.3,191.6L301.9,220.6" stroke="#d36565"/><path d="M617.5,385.2L602.7,381.5L628.4,375.8L643.2,379.4Z" fill="#fff" stroke="#fff" stroke-width="0.5"/><path d="M643.2,379.4L628.4,375.8" stroke="#5a5a9c"/><path d="M602.7,381.5L628.4,375.8" stroke="#5a5a9c"/><path d="M617.5,384.7L602.7,380.9L628.4,375.6L643.2,379.3Z" fill="#fff" stroke="#fff" stroke-width="0.5"/><path d="M643.2,379.3L628.4,375.6" stroke="#5a5a9c"/><path d="M602.7,380.9L628.4,375.6" stroke="#5a5a9c"/><path d="M326.6,368.1L308,362.2L320.5,362.4L339.1,368.2Z" fill="#fff" stroke="#fff" stroke-width="0.5"/><path d="M326.6,368.1L308,362.2" stroke="#5b5bbb"/><path d="M326.6,368.1L339.1,368.2" stroke="#5b5bbb"/><path d="M373.1,347.3L351.6,335.3L364.9,341.5L386.3,352.4Z" fill="#fff" stroke="#fff" stroke-width="0.5"/><path d="M373.1,347.3L351.6,335.3" stroke="#5e66d4"/><path d="M351.6,335.3L364.9,341.5" stroke="#6894dd"/><path d="M461.3,365.8L436.1,353.7L451.1,359.4L476.4,369.4Z" fill="#fff" stroke="#fff" stroke-width="0.5"/><path d="M476.4,369.4L451.1,359.4" stroke="#5b5bac"/><path d="M436.1,353.7L451.1,359.4" stroke="#6278d8"/><path d="M407.7,383.1L386.3,377.6L399.6,375.1L421,380.6Z" fill="#fff" stroke="#fff" stroke-width="0.5"/><path d="M421,380.6L399.6,375.1" stroke="#5a5a9c"/><path d="M407.7,383.1L421,380.6" stroke="#5a5a9c"/><path d="M407.7,380.3L386.3,373.8L399.6,372.6L421,378.8Z" fill="#fff" stroke="#fff" stroke-width="0.5"/><path d="M421,378.8L399.6,372.6" stroke="#5a5aa4"/><path d="M407.7,380.3L421,378.8" stroke="#5b5bac"/><path d="M360.5,382L339.1,376.3L351.6,374.4L373.1,380Z" fill="#fff" stroke="#fff" stroke-width="0.5"/><path d="M373.1,380L351.6,374.4" stroke="#5a5a9c"/><path d="M339.1,376.3L351.6,374.4" stroke="#5a5aa4"/><path d="M501.7,386.8L476.4,380.6L495.4,376.4L520.7,382.6Z" fill="#fff" stroke="#fff" stroke-width="0.5"/><path d="M501.7,386.8L476.4,380.6" stroke="#5a5a9c"/><path d="M501.7,386.8L520.7,382.6" stroke="#5a5a9c"/><path d="M501.7,386.6L476.4,380.1L495.4,376.1L520.7,382.5Z" fill="#fff" stroke="#fff" stroke-width="0.5"/><path d="M501.7,386.6L476.4,380.1" stroke="#5a5a9c"/><path d="M501.7,386.6L520.7,382.5" stroke="#5a5a9c"/><path d="M407.7,363.2L386.3,352.4L399.6,357.4L421,367Z" fill="#fff" stroke="#fff" stroke-width="0.5"/><path d="M421,367L399.6,357.4" stroke="#5b5bbb"/><path d="M407.7,363.2L421,367" stroke="#5e66d4"/><path d="M501.7,384.1L476.4,376.1L495.4,373.4L520.7,380.8Z" fill="#fff" stroke="#fff" stroke-width="0.5"/><path d="M501.7,384.1L476.4,376.1" stroke="#5a5aa4"/><path d="M501.7,384.1L520.7,380.8" stroke="#5a5aa4"/><path d="M576.9,387.6L558.3,383L584.1,377.1L602.7,381.7Z" fill="#fff" stroke="#fff" stroke-width="0.5"/><path d="M576.9,387.6L558.3,383" stroke="#5a5a9c"/><path d="M576.9,387.6L602.7,381.7" stroke="#5a5a9c"/><path d="M576.9,387.5L558.3,382.9L584.1,377.1L602.7,381.7Z" fill="#fff" stroke="#fff" stroke-width="0.5"/><path d="M576.9,387.5L558.3,382.9" stroke="#5a5a9c"/><path d="M576.9,387.5L602.7,381.7" stroke="#5a5a9c"/><path d="M576.9,387.2L558.3,382.4L584.1,376.8L602.7,381.5Z" fill="#fff" stroke="#fff" stroke-width="0.5"/><path d="M576.9,387.2L558.3,382.4" stroke="#5a5a9c"/><path d="M576.9,387.2L602.7,381.5" stroke="#5a5a9c"/><path d="M576.9,386.3L558.3,381.1L584.1,376L602.7,380.9Z" fill="#fff" stroke="#fff" stroke-width="0.5"/><path d="M576.9,386.3L558.3,381.1" stroke="#5a5a9c"/><path d="M576.9,386.3L602.7,380.9" stroke="#5a5a9c"/><path d="M360.5,375.2L339.1,368.2L351.6,368.4L373.1,375.1Z" fill="#fff" stroke="#fff" stroke-width="0.5"/><path d="M373.1,375.1L351.6,368.4" stroke="#5b5bac"/><path d="M339.1,368.2L351.6,368.4" stroke="#5b5bbb"/><path d="M501.7,379.5L476.4,369.4L495.4,368.9L520.7,377.7Z" fill="#fff" stroke="#fff" stroke-width="0.5"/><path d="M501.7,379.5L476.4,369.4" stroke="#5b5bac"/><path d="M501.7,379.5L520.7,377.7" stroke="#5b5bac"/><path d="M539.3,387.2L520.7,382.6L539.7,378.4L558.3,383Z" fill="#fff" stroke="#fff" stroke-width="0.5"/><path d="M558.3,383L539.7,378.4" stroke="#5a5a9c"/><path d="M520.7,382.6L539.7,378.4" stroke="#5a5a9c"/><path d="M539.3,387.1L520.7,382.5L539.7,378.3L558.3,382.9Z" fill="#fff" stroke="#fff" stroke-width="0.5"/><path d="M558.3,382.9L539.7,378.3" stroke="#5a5a9c"/><path d="M520.7,382.5L539.7,378.3" stroke="#5a5a9c"/><path d="M539.3,385.8L520.7,380.8L539.7,377.6L558.3,382.4Z" fill="#fff" stroke="#fff" stroke-width="0.5"/><path d="M558.3,382.4L539.7,377.6" stroke="#5a5a9c"/><path d="M520.7,380.8L539.7,377.6" stroke="#5a5aa4"/><path d="M539.3,383.4L520.7,377.7L539.7,376L558.3,381.1Z" fill="#fff" stroke="#fff" stroke-width="0.5"/><path d="M558.3,381.1L539.7,376" stroke="#5a5a9c"/><path d="M520.7,377.7L539.7,376" stroke="#5b5bac"/><path d="M446.3,386.9L421,380.6L436.1,377.5L461.3,383.7Z" fill="#fff" stroke="#fff" stroke-width="0.5"/><path d="M446.3,386.9L421,380.6" stroke="#5a5a9c"/><path d="M421,380.6L436.1,377.5" stroke="#5a5a9c"/><path d="M446.3,385.6L421,378.8L436.1,376.2L461.3,382.9Z" fill="#fff" stroke="#fff" stroke-width="0.5"/><path d="M446.3,385.6L421,378.8" stroke="#5a5a9c"/><path d="M421,378.8L436.1,376.2" stroke="#5a5aa4"/><path d="M373.1,302.7L351.6,282.3L364.9,300.1L386.3,317.8Z" fill="#fff" stroke="#fff" stroke-width="0.5"/><path d="M373.1,302.7L351.6,282.3" stroke="#75d4ea"/><path d="M351.6,282.3L364.9,300.1" stroke="#aaf3c7"/><path d="M326.6,313.8L308,303.4L320.5,314.4L339.1,324.6Z" fill="#fff" stroke="#fff" stroke-width="0.5"/><path d="M326.6,313.8L308,303.4" stroke="#76ddec"/><path d="M326.6,313.8L339.1,324.6" stroke="#76ddec"/><path d="M407.7,335.5L386.3,317.8L399.6,332.9L421,348Z" fill="#fff" stroke="#fff" stroke-width="0.5"/><path d="M421,348L399.6,332.9" stroke="#6278d8"/><path d="M407.7,335.5L421,348" stroke="#75d4ea"/><path d="M632.3,389L617.5,385.3L643.2,379.5L658,383.1Z" fill="#fff" stroke="#fff" stroke-width="0.5"/><path d="M658,383.1L643.2,379.5" stroke="#5a5a9c"/><path d="M632.3,389L658,383.1" stroke="#5a5a9c"/><path d="M632.3,389L617.5,385.3L643.2,379.5L658,383.1Z" fill="#fff" stroke="#fff" stroke-width="0.5"/><path d="M658,383.1L643.2,379.5" stroke="#5a5a9c"/><path d="M632.3,389L658,383.1" stroke="#5a5a9c"/><path d="M632.3,388.9L617.5,385.2L643.2,379.4L658,383.1Z" fill="#fff" stroke="#fff" stroke-width="0.5"/><path d="M658,383.1L643.2,379.4" stroke="#5a5a9c"/><path d="M632.3,388.9L658,383.1" stroke="#5a5a9c"/><path d="M632.3,388.5L617.5,384.7L643.2,379.3L658,383Z" fill="#fff" stroke="#fff" stroke-width="0.5"/><path d="M658,383L643.2,379.3" stroke="#5a5a9c"/><path d="M632.3,388.5L658,383" stroke="#5a5a9c"/><path d="M339.1,254.7L320.5,237.6L333,266L351.6,282.3Z" fill="#fff" stroke="#fff" stroke-width="0.5"/><path d="M351.6,282.3L333,266" stroke="#aaf3c7"/><path d="M339.1,254.7L351.6,282.3" stroke="#e9a673"/><path d="M446.3,376.8L421,367L436.1,367.6L461.3,376.5Z" fill="#fff" stroke="#fff" stroke-width="0.5"/><path d="M446.3,376.8L421,367" stroke="#5b5bac"/><path d="M421,367L436.1,367.6" stroke="#5b5bbb"/><path d="M394.5,385.6L373.1,380L386.3,377.6L407.7,383.1Z" fill="#fff" stroke="#fff" stroke-width="0.5"/><path d="M394.5,385.6L373.1,380" stroke="#5a5a9c"/><path d="M394.5,385.6L407.7,383.1" stroke="#5a5a9c"/><path d="M394.5,381.8L373.1,375.1L386.3,373.8L407.7,380.3Z" fill="#fff" stroke="#fff" stroke-width="0.5"/><path d="M394.5,381.8L373.1,375.1" stroke="#5b5bac"/><path d="M394.5,381.8L407.7,380.3" stroke="#5b5bac"/><path d="M360.5,337.8L339.1,324.6L351.6,335.3L373.1,347.3Z" fill="#fff" stroke="#fff" stroke-width="0.5"/><path d="M373.1,347.3L351.6,335.3" stroke="#5e66d4"/><path d="M339.1,324.6L351.6,335.3" stroke="#76ddec"/><path d="M446.3,362.2L421,348L436.1,353.7L461.3,365.8Z" fill="#fff" stroke="#fff" stroke-width="0.5"/><path d="M446.3,362.2L421,348" stroke="#5c5cc3"/><path d="M421,348L436.1,353.7" stroke="#6278d8"/><path d="M348,383.9L326.6,378.1L339.1,376.3L360.5,382Z" fill="#fff" stroke="#fff" stroke-width="0.5"/><path d="M348,383.9L326.6,378.1" stroke="#5a5aa4"/><path d="M326.6,378.1L339.1,376.3" stroke="#5a5aa4"/><path d="M308,209.3L289.3,191.6L301.9,220.6L320.5,237.6Z" fill="#fff" stroke="#fff" stroke-width="0.5"/><path d="M308,209.3L289.3,191.6" stroke="#e9a673"/><path d="M289.3,191.6L301.9,220.6" stroke="#d36565"/><path d="M348,375.3L326.6,368.1L339.1,368.2L360.5,375.2Z" fill="#fff" stroke="#fff" stroke-width="0.5"/><path d="M348,375.3L326.6,368.1" stroke="#5b5bb3"/><path d="M326.6,368.1L339.1,368.2" stroke="#5b5bbb"/><path d="M394.5,359.3L373.1,347.3L386.3,352.4L407.7,363.2Z" fill="#fff" stroke="#fff" stroke-width="0.5"/><path d="M394.5,359.3L373.1,347.3" stroke="#5e66d4"/><path d="M394.5,359.3L407.7,363.2" stroke="#5e66d4"/><path d="M486.6,390L461.3,383.7L476.4,380.6L501.7,386.8Z" fill="#fff" stroke="#fff" stroke-width="0.5"/><path d="M501.7,386.8L476.4,380.6" stroke="#5a5a9c"/><path d="M486.6,390L501.7,386.8" stroke="#5a5a9c"/><path d="M486.6,389.6L461.3,382.9L476.4,380.1L501.7,386.6Z" fill="#fff" stroke="#fff" stroke-width="0.5"/><path d="M501.7,386.6L476.4,380.1" stroke="#5a5a9c"/><path d="M486.6,389.6L501.7,386.6" stroke="#5a5a9c"/><path d="M486.6,385.3L461.3,376.5L476.4,376.1L501.7,384.1Z" fill="#fff" stroke="#fff" stroke-width="0.5"/><path d="M501.7,384.1L476.4,376.1" stroke="#5a5aa4"/><path d="M486.6,385.3L501.7,384.1" stroke="#5b5bac"/><path d="M591.7,391.2L576.9,387.6L602.7,381.7L617.5,385.3Z" fill="#fff" stroke="#fff" stroke-width="0.5"/><path d="M591.7,391.2L576.9,387.6" stroke="#5a5a9c"/><path d="M576.9,387.6L602.7,381.7" stroke="#5a5a9c"/><path d="M591.7,391.2L576.9,387.5L602.7,381.7L617.5,385.3Z" fill="#fff" stroke="#fff" stroke-width="0.5"/><path d="M591.7,391.2L576.9,387.5" stroke="#5a5a9c"/><path d="M576.9,387.5L602.7,381.7" stroke="#5a5a9c"/><path d="M591.7,390.9L576.9,387.2L602.7,381.5L617.5,385.2Z" fill="#fff" stroke="#fff" stroke-width="0.5"/><path d="M591.7,390.9L576.9,387.2" stroke="#5a5a9c"/><path d="M576.9,387.2L602.7,381.5" stroke="#5a5a9c"/><path d="M591.7,390.2L576.9,386.3L602.7,380.9L617.5,384.7Z" fill="#fff" stroke="#fff" stroke-width="0.5"/><path d="M591.7,390.2L576.9,386.3" stroke="#5a5a9c"/><path d="M576.9,386.3L602.7,380.9" stroke="#5a5a9c"/><path d="M433,389.5L407.7,383.1L421,380.6L446.3,386.9Z" fill="#fff" stroke="#fff" stroke-width="0.5"/><path d="M446.3,386.9L421,380.6" stroke="#5a5a9c"/><path d="M407.7,383.1L421,380.6" stroke="#5a5a9c"/><path d="M486.6,378L461.3,365.8L476.4,369.4L501.7,379.5Z" fill="#fff" stroke="#fff" stroke-width="0.5"/><path d="M501.7,379.5L476.4,369.4" stroke="#5b5bac"/><path d="M486.6,378L501.7,379.5" stroke="#5c5cc3"/><path d="M433,387.5L407.7,380.3L421,378.8L446.3,385.6Z" fill="#fff" stroke="#fff" stroke-width="0.5"/><path d="M446.3,385.6L421,378.8" stroke="#5a5a9c"/><path d="M407.7,380.3L421,378.8" stroke="#5b5bac"/><path d="M382,387.7L360.5,382L373.1,380L394.5,385.6Z" fill="#fff" stroke="#fff" stroke-width="0.5"/><path d="M394.5,385.6L373.1,380" stroke="#5a5a9c"/><path d="M382,387.7L394.5,385.6" stroke="#5a5aa4"/><path d="M520.3,391.4L501.7,386.8L520.7,382.6L539.3,387.2Z" fill="#fff" stroke="#fff" stroke-width="0.5"/><path d="M520.3,391.4L501.7,386.8" stroke="#5a5a9c"/><path d="M501.7,386.8L520.7,382.6" stroke="#5a5a9c"/><path d="M520.3,391.2L501.7,386.6L520.7,382.5L539.3,387.1Z" fill="#fff" stroke="#fff" stroke-width="0.5"/><path d="M520.3,391.2L501.7,386.6" stroke="#5a5a9c"/><path d="M501.7,386.6L520.7,382.5" stroke="#5a5a9c"/><path d="M557.9,391.8L539.3,387.2L558.3,383L576.9,387.6Z" fill="#fff" stroke="#fff" stroke-width="0.5"/><path d="M576.9,387.6L558.3,383" stroke="#5a5a9c"/><path d="M557.9,391.8L576.9,387.6" stroke="#5a5a9c"/><path d="M557.9,391.7L539.3,387.1L558.3,382.9L576.9,387.5Z" fill="#fff" stroke="#fff" stroke-width="0.5"/><path d="M576.9,387.5L558.3,382.9" stroke="#5a5a9c"/><path d="M557.9,391.7L576.9,387.5" stroke="#5a5a9c"/><path d="M382,382.2L360.5,375.2L373.1,375.1L394.5,381.8Z" fill="#fff" stroke="#fff" stroke-width="0.5"/><path d="M394.5,381.8L373.1,375.1" stroke="#5b5bac"/><path d="M382,382.2L394.5,381.8" stroke="#5b5bb3"/><path d="M520.3,389.3L501.7,384.1L520.7,380.8L539.3,385.8Z" fill="#fff" stroke="#fff" stroke-width="0.5"/><path d="M520.3,389.3L501.7,384.1" stroke="#5a5a9c"/><path d="M501.7,384.1L520.7,380.8" stroke="#5a5aa4"/><path d="M557.9,390.9L539.3,385.8L558.3,382.4L576.9,387.2Z" fill="#fff" stroke="#fff" stroke-width="0.5"/><path d="M576.9,387.2L558.3,382.4" stroke="#5a5a9c"/><path d="M557.9,390.9L576.9,387.2" stroke="#5a5a9c"/><path d="M433,374.4L407.7,363.2L421,367L446.3,376.8Z" fill="#fff" stroke="#fff" stroke-width="0.5"/><path d="M446.3,376.8L421,367" stroke="#5b5bac"/><path d="M407.7,363.2L421,367" stroke="#5e66d4"/><path d="M557.9,389.1L539.3,383.4L558.3,381.1L576.9,386.3Z" fill="#fff" stroke="#fff" stroke-width="0.5"/><path d="M576.9,386.3L558.3,381.1" stroke="#5a5a9c"/><path d="M557.9,389.1L576.9,386.3" stroke="#5a5aa4"/><path d="M520.3,385.7L501.7,379.5L520.7,377.7L539.3,383.4Z" fill="#fff" stroke="#fff" stroke-width="0.5"/><path d="M520.3,385.7L501.7,379.5" stroke="#5a5aa4"/><path d="M501.7,379.5L520.7,377.7" stroke="#5b5bac"/><path d="M394.5,323.1L373.1,302.7L386.3,317.8L407.7,335.5Z" fill="#fff" stroke="#fff" stroke-width="0.5"/><path d="M394.5,323.1L373.1,302.7" stroke="#75d4ea"/><path d="M394.5,323.1L407.7,335.5" stroke="#75d4ea"/><path d="M360.5,277.8L339.1,254.7L351.6,282.3L373.1,302.7Z" fill="#fff" stroke="#fff" stroke-width="0.5"/><path d="M373.1,302.7L351.6,282.3" stroke="#75d4ea"/><path d="M339.1,254.7L351.6,282.3" stroke="#e9a673"/><path d="M348,328.3L326.6,313.8L339.1,324.6L360.5,337.8Z" fill="#fff" stroke="#fff" stroke-width="0.5"/><path d="M348,328.3L326.6,313.8" stroke="#6ba6e1"/><path d="M326.6,313.8L339.1,324.6" stroke="#76ddec"/><path d="M326.6,227.1L308,209.3L320.5,237.6L339.1,254.7Z" fill="#fff" stroke="#fff" stroke-width="0.5"/><path d="M326.6,227.1L308,209.3" stroke="#e9a673"/><path d="M326.6,227.1L339.1,254.7" stroke="#e9a673"/><path d="M433,353L407.7,335.5L421,348L446.3,362.2Z" fill="#fff" stroke="#fff" stroke-width="0.5"/><path d="M446.3,362.2L421,348" stroke="#5c5cc3"/><path d="M407.7,335.5L421,348" stroke="#75d4ea"/><path d="M382,351L360.5,337.8L373.1,347.3L394.5,359.3Z" fill="#fff" stroke="#fff" stroke-width="0.5"/><path d="M394.5,359.3L373.1,347.3" stroke="#5e66d4"/><path d="M382,351L394.5,359.3" stroke="#6ba6e1"/><path d="M471.6,393.3L446.3,386.9L461.3,383.7L486.6,390Z" fill="#fff" stroke="#fff" stroke-width="0.5"/><path d="M471.6,393.3L446.3,386.9" stroke="#5a5a9c"/><path d="M471.6,393.3L486.6,390" stroke="#5a5a9c"/><path d="M471.6,392.5L446.3,385.6L461.3,382.9L486.6,389.6Z" fill="#fff" stroke="#fff" stroke-width="0.5"/><path d="M471.6,392.5L446.3,385.6" stroke="#5a5a9c"/><path d="M471.6,392.5L486.6,389.6" stroke="#5a5a9c"/><path d="M419.8,392.1L394.5,385.6L407.7,383.1L433,389.5Z" fill="#fff" stroke="#fff" stroke-width="0.5"/><path d="M419.8,392.1L394.5,385.6" stroke="#5a5a9c"/><path d="M394.5,385.6L407.7,383.1" stroke="#5a5a9c"/><path d="M606.5,394.8L591.7,391.2L617.5,385.3L632.3,389Z" fill="#fff" stroke="#fff" stroke-width="0.5"/><path d="M606.5,394.8L591.7,391.2" stroke="#5a5a9c"/><path d="M606.5,394.8L632.3,389" stroke="#5a5a9c"/><path d="M606.5,394.8L591.7,391.2L617.5,385.3L632.3,389Z" fill="#fff" stroke="#fff" stroke-width="0.5"/><path d="M606.5,394.8L591.7,391.2" stroke="#5a5a9c"/><path d="M606.5,394.8L632.3,389" stroke="#5a5a9c"/><path d="M606.5,394.6L591.7,390.9L617.5,385.2L632.3,388.9Z" fill="#fff" stroke="#fff" stroke-width="0.5"/><path d="M606.5,394.6L591.7,390.9" stroke="#5a5a9c"/><path d="M606.5,394.6L632.3,388.9" stroke="#5a5a9c"/><path d="M471.6,386.6L446.3,376.8L461.3,376.5L486.6,385.3Z" fill="#fff" stroke="#fff" stroke-width="0.5"/><path d="M471.6,386.6L446.3,376.8" stroke="#5b5bac"/><path d="M471.6,386.6L486.6,385.3" stroke="#5b5bac"/><path d="M419.8,389.3L394.5,381.8L407.7,380.3L433,387.5Z" fill="#fff" stroke="#fff" stroke-width="0.5"/><path d="M419.8,389.3L394.5,381.8" stroke="#5a5aa4"/><path d="M394.5,381.8L407.7,380.3" stroke="#5b5bac"/><path d="M606.5,394.1L591.7,390.2L617.5,384.7L632.3,388.5Z" fill="#fff" stroke="#fff" stroke-width="0.5"/><path d="M606.5,394.1L591.7,390.2" stroke="#5a5a9c"/><path d="M606.5,394.1L632.3,388.5" stroke="#5a5a9c"/><path d="M369.5,389.7L348,383.9L360.5,382L382,387.7Z" fill="#fff" stroke="#fff" stroke-width="0.5"/><path d="M369.5,389.7L348,383.9" stroke="#5a5aa4"/><path d="M369.5,389.7L382,387.7" stroke="#5a5aa4"/><path d="M369.5,382.6L348,375.3L360.5,375.2L382,382.2Z" fill="#fff" stroke="#fff" stroke-width="0.5"/><path d="M369.5,382.6L348,375.3" stroke="#5b5bb3"/><path d="M369.5,382.6L382,382.2" stroke="#5b5bb3"/><path d="M471.6,376.4L446.3,362.2L461.3,365.8L486.6,378Z" fill="#fff" stroke="#fff" stroke-width="0.5"/><path d="M471.6,376.4L446.3,362.2" stroke="#5c5cc3"/><path d="M471.6,376.4L486.6,378" stroke="#5c5cc3"/><path d="M419.8,372L394.5,359.3L407.7,363.2L433,374.4Z" fill="#fff" stroke="#fff" stroke-width="0.5"/><path d="M419.8,372L394.5,359.3" stroke="#5c5cc3"/><path d="M394.5,359.3L407.7,363.2" stroke="#5e66d4"/><path d="M505.3,394.6L486.6,390L501.7,386.8L520.3,391.4Z" fill="#fff" stroke="#fff" stroke-width="0.5"/><path d="M520.3,391.4L501.7,386.8" stroke="#5a5a9c"/><path d="M486.6,390L501.7,386.8" stroke="#5a5a9c"/><path d="M505.3,394.3L486.6,389.6L501.7,386.6L520.3,391.2Z" fill="#fff" stroke="#fff" stroke-width="0.5"/><path d="M520.3,391.2L501.7,386.6" stroke="#5a5a9c"/><path d="M486.6,389.6L501.7,386.6" stroke="#5a5a9c"/><path d="M505.3,391L486.6,385.3L501.7,384.1L520.3,389.3Z" fill="#fff" stroke="#fff" stroke-width="0.5"/><path d="M520.3,389.3L501.7,384.1" stroke="#5a5a9c"/><path d="M486.6,385.3L501.7,384.1" stroke="#5b5bac"/><path d="M572.7,395.4L557.9,391.8L576.9,387.6L591.7,391.2Z" fill="#fff" stroke="#fff" stroke-width="0.5"/><path d="M591.7,391.2L576.9,387.6" stroke="#5a5a9c"/><path d="M557.9,391.8L576.9,387.6" stroke="#5a5a9c"/><path d="M572.7,395.4L557.9,391.7L576.9,387.5L591.7,391.2Z" fill="#fff" stroke="#fff" stroke-width="0.5"/><path d="M591.7,391.2L576.9,387.5" stroke="#5a5a9c"/><path d="M557.9,391.7L576.9,387.5" stroke="#5a5a9c"/><path d="M572.7,394.7L557.9,390.9L576.9,387.2L591.7,390.9Z" fill="#fff" stroke="#fff" stroke-width="0.5"/><path d="M591.7,390.9L576.9,387.2" stroke="#5a5a9c"/><path d="M557.9,390.9L576.9,387.2" stroke="#5a5a9c"/><path d="M572.7,393.3L557.9,389.1L576.9,386.3L591.7,390.2Z" fill="#fff" stroke="#fff" stroke-width="0.5"/><path d="M591.7,390.2L576.9,386.3" stroke="#5a5a9c"/><path d="M557.9,389.1L576.9,386.3" stroke="#5a5aa4"/><path d="M505.3,385.1L486.6,378L501.7,379.5L520.3,385.7Z" fill="#fff" stroke="#fff" stroke-width="0.5"/><path d="M520.3,385.7L501.7,379.5" stroke="#5a5aa4"/><path d="M486.6,378L501.7,379.5" stroke="#5c5cc3"/><path d="M539,396L520.3,391.4L539.3,387.2L557.9,391.8Z" fill="#fff" stroke="#fff" stroke-width="0.5"/><path d="M539,396L520.3,391.4" stroke="#5a5a9c"/><path d="M539,396L557.9,391.8" stroke="#5a5a9c"/><path d="M539,395.9L520.3,391.2L539.3,387.1L557.9,391.7Z" fill="#fff" stroke="#fff" stroke-width="0.5"/><path d="M539,395.9L520.3,391.2" stroke="#5a5a9c"/><path d="M539,395.9L557.9,391.7" stroke="#5a5a9c"/><path d="M539,394.6L520.3,389.3L539.3,385.8L557.9,390.9Z" fill="#fff" stroke="#fff" stroke-width="0.5"/><path d="M539,394.6L520.3,389.3" stroke="#5a5a9c"/><path d="M539,394.6L557.9,390.9" stroke="#5a5a9c"/><path d="M539,391.9L520.3,385.7L539.3,383.4L557.9,389.1Z" fill="#fff" stroke="#fff" stroke-width="0.5"/><path d="M539,391.9L520.3,385.7" stroke="#5a5aa4"/><path d="M539,391.9L557.9,389.1" stroke="#5a5aa4"/><path d="M382,300.8L360.5,277.8L373.1,302.7L394.5,323.1Z" fill="#fff" stroke="#fff" stroke-width="0.5"/><path d="M394.5,323.1L373.1,302.7" stroke="#75d4ea"/><path d="M382,300.8L394.5,323.1" stroke="#d9f79f"/><path d="M348,252.8L326.6,227.1L339.1,254.7L360.5,277.8Z" fill="#fff" stroke="#fff" stroke-width="0.5"/><path d="M348,252.8L326.6,227.1" stroke="#d9f79f"/><path d="M326.6,227.1L339.1,254.7" stroke="#e9a673"/><path d="M419.8,343.7L394.5,323.1L407.7,335.5L433,353Z" fill="#fff" stroke="#fff" stroke-width="0.5"/><path d="M419.8,343.7L394.5,323.1" stroke="#6481da"/><path d="M394.5,323.1L407.7,335.5" stroke="#75d4ea"/><path d="M458.3,395.9L433,389.5L446.3,386.9L471.6,393.3Z" fill="#fff" stroke="#fff" stroke-width="0.5"/><path d="M471.6,393.3L446.3,386.9" stroke="#5a5a9c"/><path d="M458.3,395.9L471.6,393.3" stroke="#5a5a9c"/><path d="M407.3,394.3L382,387.7L394.5,385.6L419.8,392.1Z" fill="#fff" stroke="#fff" stroke-width="0.5"/><path d="M419.8,392.1L394.5,385.6" stroke="#5a5a9c"/><path d="M382,387.7L394.5,385.6" stroke="#5a5aa4"/><path d="M458.3,394.7L433,387.5L446.3,385.6L471.6,392.5Z" fill="#fff" stroke="#fff" stroke-width="0.5"/><path d="M471.6,392.5L446.3,385.6" stroke="#5a5a9c"/><path d="M458.3,394.7L471.6,392.5" stroke="#5a5aa4"/><path d="M369.5,342.7L348,328.3L360.5,337.8L382,351Z" fill="#fff" stroke="#fff" stroke-width="0.5"/><path d="M369.5,342.7L348,328.3" stroke="#6ba6e1"/><path d="M369.5,342.7L382,351" stroke="#6ba6e1"/><path d="M407.3,390.2L382,382.2L394.5,381.8L419.8,389.3Z" fill="#fff" stroke="#fff" stroke-width="0.5"/><path d="M419.8,389.3L394.5,381.8" stroke="#5a5aa4"/><path d="M382,382.2L394.5,381.8" stroke="#5b5bb3"/><path d="M458.3,385.6L433,374.4L446.3,376.8L471.6,386.6Z" fill="#fff" stroke="#fff" stroke-width="0.5"/><path d="M471.6,386.6L446.3,376.8" stroke="#5b5bac"/><path d="M458.3,385.6L471.6,386.6" stroke="#5c5cc3"/><path d="M458.3,370.4L433,353L446.3,362.2L471.6,376.4Z" fill="#fff" stroke="#fff" stroke-width="0.5"/><path d="M471.6,376.4L446.3,362.2" stroke="#5c5cc3"/><path d="M458.3,370.4L471.6,376.4" stroke="#6481da"/><path d="M407.3,365.6L382,351L394.5,359.3L419.8,372Z" fill="#fff" stroke="#fff" stroke-width="0.5"/><path d="M419.8,372L394.5,359.3" stroke="#5c5cc3"/><path d="M382,351L394.5,359.3" stroke="#6ba6e1"/><path d="M490.2,397.9L471.6,393.3L486.6,390L505.3,394.6Z" fill="#fff" stroke="#fff" stroke-width="0.5"/><path d="M490.2,397.9L471.6,393.3" stroke="#5a5a9c"/><path d="M471.6,393.3L486.6,390" stroke="#5a5a9c"/><path d="M490.2,397.4L471.6,392.5L486.6,389.6L505.3,394.3Z" fill="#fff" stroke="#fff" stroke-width="0.5"/><path d="M490.2,397.4L471.6,392.5" stroke="#5a5a9c"/><path d="M471.6,392.5L486.6,389.6" stroke="#5a5a9c"/><path d="M587.5,399.1L572.7,395.4L591.7,391.2L606.5,394.8Z" fill="#fff" stroke="#fff" stroke-width="0.5"/><path d="M606.5,394.8L591.7,391.2" stroke="#5a5a9c"/><path d="M587.5,399.1L606.5,394.8" stroke="#5a5a9c"/><path d="M587.5,399L572.7,395.4L591.7,391.2L606.5,394.8Z" fill="#fff" stroke="#fff" stroke-width="0.5"/><path d="M606.5,394.8L591.7,391.2" stroke="#5a5a9c"/><path d="M587.5,399L606.5,394.8" stroke="#5a5a9c"/><path d="M490.2,392.7L471.6,386.6L486.6,385.3L505.3,391Z" fill="#fff" stroke="#fff" stroke-width="0.5"/><path d="M490.2,392.7L471.6,386.6" stroke="#5a5aa4"/><path d="M471.6,386.6L486.6,385.3" stroke="#5b5bac"/><path d="M587.5,398.6L572.7,394.7L591.7,390.9L606.5,394.6Z" fill="#fff" stroke="#fff" stroke-width="0.5"/><path d="M606.5,394.6L591.7,390.9" stroke="#5a5a9c"/><path d="M587.5,398.6L606.5,394.6" stroke="#5a5a9c"/><path d="M587.5,397.5L572.7,393.3L591.7,390.2L606.5,394.1Z" fill="#fff" stroke="#fff" stroke-width="0.5"/><path d="M606.5,394.1L591.7,390.2" stroke="#5a5a9c"/><path d="M587.5,397.5L606.5,394.1" stroke="#5a5a9c"/><path d="M490.2,384.6L471.6,376.4L486.6,378L505.3,385.1Z" fill="#fff" stroke="#fff" stroke-width="0.5"/><path d="M490.2,384.6L471.6,376.4" stroke="#5b5bb3"/><path d="M471.6,376.4L486.6,378" stroke="#5c5cc3"/><path d="M394.8,396.4L369.5,389.7L382,387.7L407.3,394.3Z" fill="#fff" stroke="#fff" stroke-width="0.5"/><path d="M394.8,396.4L369.5,389.7" stroke="#5a5aa4"/><path d="M369.5,389.7L382,387.7" stroke="#5a5aa4"/><path d="M523.9,399.2L505.3,394.6L520.3,391.4L539,396Z" fill="#fff" stroke="#fff" stroke-width="0.5"/><path d="M539,396L520.3,391.4" stroke="#5a5a9c"/><path d="M523.9,399.2L539,396" stroke="#5a5a9c"/><path d="M523.9,399L505.3,394.3L520.3,391.2L539,395.9Z" fill="#fff" stroke="#fff" stroke-width="0.5"/><path d="M539,395.9L520.3,391.2" stroke="#5a5a9c"/><path d="M523.9,399L539,395.9" stroke="#5a5a9c"/><path d="M445,398.6L419.8,392.1L433,389.5L458.3,395.9Z" fill="#fff" stroke="#fff" stroke-width="0.5"/><path d="M445,398.6L419.8,392.1" stroke="#5a5a9c"/><path d="M445,398.6L458.3,395.9" stroke="#5a5a9c"/><path d="M553.7,399.6L539,396L557.9,391.8L572.7,395.4Z" fill="#fff" stroke="#fff" stroke-width="0.5"/><path d="M553.7,399.6L539,396" stroke="#5a5a9c"/><path d="M539,396L557.9,391.8" stroke="#5a5a9c"/><path d="M553.7,399.6L539,395.9L557.9,391.7L572.7,395.4Z" fill="#fff" stroke="#fff" stroke-width="0.5"/><path d="M553.7,399.6L539,395.9" stroke="#5a5a9c"/><path d="M539,395.9L557.9,391.7" stroke="#5a5a9c"/><path d="M523.9,396.7L505.3,391L520.3,389.3L539,394.6Z" fill="#fff" stroke="#fff" stroke-width="0.5"/><path d="M539,394.6L520.3,389.3" stroke="#5a5a9c"/><path d="M523.9,396.7L539,394.6" stroke="#5a5aa4"/><path d="M553.7,398.6L539,394.6L557.9,390.9L572.7,394.7Z" fill="#fff" stroke="#fff" stroke-width="0.5"/><path d="M553.7,398.6L539,394.6" stroke="#5a5a9c"/><path d="M539,394.6L557.9,390.9" stroke="#5a5a9c"/><path d="M445,396.9L419.8,389.3L433,387.5L458.3,394.7Z" fill="#fff" stroke="#fff" stroke-width="0.5"/><path d="M445,396.9L419.8,389.3" stroke="#5a5aa4"/><path d="M445,396.9L458.3,394.7" stroke="#5a5aa4"/><path d="M394.8,391L369.5,382.6L382,382.2L407.3,390.2Z" fill="#fff" stroke="#fff" stroke-width="0.5"/><path d="M394.8,391L369.5,382.6" stroke="#5b5bac"/><path d="M369.5,382.6L382,382.2" stroke="#5b5bb3"/><path d="M553.7,396.4L539,391.9L557.9,389.1L572.7,393.3Z" fill="#fff" stroke="#fff" stroke-width="0.5"/><path d="M553.7,396.4L539,391.9" stroke="#5a5a9c"/><path d="M539,391.9L557.9,389.1" stroke="#5a5aa4"/><path d="M523.9,392.3L505.3,385.1L520.3,385.7L539,391.9Z" fill="#fff" stroke="#fff" stroke-width="0.5"/><path d="M539,391.9L520.3,385.7" stroke="#5a5aa4"/><path d="M523.9,392.3L539,391.9" stroke="#5b5bb3"/><path d="M369.5,278.6L348,252.8L360.5,277.8L382,300.8Z" fill="#fff" stroke="#fff" stroke-width="0.5"/><path d="M369.5,278.6L348,252.8" stroke="#d9f79f"/><path d="M369.5,278.6L382,300.8" stroke="#d9f79f"/><path d="M445,384.6L419.8,372L433,374.4L458.3,385.6Z" fill="#fff" stroke="#fff" stroke-width="0.5"/><path d="M445,384.6L419.8,372" stroke="#5c5cc3"/><path d="M445,384.6L458.3,385.6" stroke="#5c5cc3"/><path d="M407.3,326L382,300.8L394.5,323.1L419.8,343.7Z" fill="#fff" stroke="#fff" stroke-width="0.5"/><path d="M419.8,343.7L394.5,323.1" stroke="#6481da"/><path d="M382,300.8L394.5,323.1" stroke="#d9f79f"/><path d="M394.8,359.3L369.5,342.7L382,351L407.3,365.6Z" fill="#fff" stroke="#fff" stroke-width="0.5"/><path d="M394.8,359.3L369.5,342.7" stroke="#606fd6"/><path d="M369.5,342.7L382,351" stroke="#6ba6e1"/><path d="M445,364.3L419.8,343.7L433,353L458.3,370.4Z" fill="#fff" stroke="#fff" stroke-width="0.5"/><path d="M445,364.3L419.8,343.7" stroke="#6481da"/><path d="M445,364.3L458.3,370.4" stroke="#6481da"/><path d="M476.9,400.6L458.3,395.9L471.6,393.3L490.2,397.9Z" fill="#fff" stroke="#fff" stroke-width="0.5"/><path d="M490.2,397.9L471.6,393.3" stroke="#5a5a9c"/><path d="M458.3,395.9L471.6,393.3" stroke="#5a5a9c"/><path d="M476.9,399.7L458.3,394.7L471.6,392.5L490.2,397.4Z" fill="#fff" stroke="#fff" stroke-width="0.5"/><path d="M490.2,397.4L471.6,392.5" stroke="#5a5a9c"/><path d="M458.3,394.7L471.6,392.5" stroke="#5a5aa4"/><path d="M476.9,392.5L458.3,385.6L471.6,386.6L490.2,392.7Z" fill="#fff" stroke="#fff" stroke-width="0.5"/><path d="M490.2,392.7L471.6,386.6" stroke="#5a5aa4"/><path d="M458.3,385.6L471.6,386.6" stroke="#5c5cc3"/><path d="M432.5,400.8L407.3,394.3L419.8,392.1L445,398.6Z" fill="#fff" stroke="#fff" stroke-width="0.5"/><path d="M445,398.6L419.8,392.1" stroke="#5a5a9c"/><path d="M432.5,400.8L445,398.6" stroke="#5a5aa4"/><path d="M432.5,398.1L407.3,390.2L419.8,389.3L445,396.9Z" fill="#fff" stroke="#fff" stroke-width="0.5"/><path d="M445,396.9L419.8,389.3" stroke="#5a5aa4"/><path d="M432.5,398.1L445,396.9" stroke="#5b5bac"/><path d="M476.9,380.2L458.3,370.4L471.6,376.4L490.2,384.6Z" fill="#fff" stroke="#fff" stroke-width="0.5"/><path d="M490.2,384.6L471.6,376.4" stroke="#5b5bb3"/><path d="M458.3,370.4L471.6,376.4" stroke="#6481da"/><path d="M508.8,402.5L490.2,397.9L505.3,394.6L523.9,399.2Z" fill="#fff" stroke="#fff" stroke-width="0.5"/><path d="M508.8,402.5L490.2,397.9" stroke="#5a5a9c"/><path d="M508.8,402.5L523.9,399.2" stroke="#5a5a9c"/><path d="M508.8,402.2L490.2,397.4L505.3,394.3L523.9,399Z" fill="#fff" stroke="#fff" stroke-width="0.5"/><path d="M508.8,402.2L490.2,397.4" stroke="#5a5a9c"/><path d="M508.8,402.2L523.9,399" stroke="#5a5a9c"/><path d="M568.5,403.3L553.7,399.6L572.7,395.4L587.5,399.1Z" fill="#fff" stroke="#fff" stroke-width="0.5"/><path d="M568.5,403.3L553.7,399.6" stroke="#5a5a9c"/><path d="M568.5,403.3L587.5,399.1" stroke="#5a5a9c"/><path d="M568.5,403.2L553.7,399.6L572.7,395.4L587.5,399Z" fill="#fff" stroke="#fff" stroke-width="0.5"/><path d="M568.5,403.2L553.7,399.6" stroke="#5a5a9c"/><path d="M568.5,403.2L587.5,399" stroke="#5a5a9c"/><path d="M568.5,402.5L553.7,398.6L572.7,394.7L587.5,398.6Z" fill="#fff" stroke="#fff" stroke-width="0.5"/><path d="M568.5,402.5L553.7,398.6" stroke="#5a5a9c"/><path d="M568.5,402.5L587.5,398.6" stroke="#5a5a9c"/><path d="M508.8,398.8L490.2,392.7L505.3,391L523.9,396.7Z" fill="#fff" stroke="#fff" stroke-width="0.5"/><path d="M508.8,398.8L490.2,392.7" stroke="#5a5aa4"/><path d="M508.8,398.8L523.9,396.7" stroke="#5a5aa4"/><path d="M568.5,400.8L553.7,396.4L572.7,393.3L587.5,397.5Z" fill="#fff" stroke="#fff" stroke-width="0.5"/><path d="M568.5,400.8L553.7,396.4" stroke="#5a5a9c"/><path d="M568.5,400.8L587.5,397.5" stroke="#5a5a9c"/><path d="M538.7,402.9L523.9,399.2L539,396L553.7,399.6Z" fill="#fff" stroke="#fff" stroke-width="0.5"/><path d="M553.7,399.6L539,396" stroke="#5a5a9c"/><path d="M523.9,399.2L539,396" stroke="#5a5a9c"/><path d="M538.7,402.7L523.9,399L539,395.9L553.7,399.6Z" fill="#fff" stroke="#fff" stroke-width="0.5"/><path d="M553.7,399.6L539,395.9" stroke="#5a5a9c"/><path d="M523.9,399L539,395.9" stroke="#5a5a9c"/><path d="M508.8,392.7L490.2,384.6L505.3,385.1L523.9,392.3Z" fill="#fff" stroke="#fff" stroke-width="0.5"/><path d="M508.8,392.7L490.2,384.6" stroke="#5b5bb3"/><path d="M508.8,392.7L523.9,392.3" stroke="#5b5bb3"/><path d="M538.7,400.9L523.9,396.7L539,394.6L553.7,398.6Z" fill="#fff" stroke="#fff" stroke-width="0.5"/><path d="M553.7,398.6L539,394.6" stroke="#5a5a9c"/><path d="M523.9,396.7L539,394.6" stroke="#5a5aa4"/><path d="M432.5,380.3L407.3,365.6L419.8,372L445,384.6Z" fill="#fff" stroke="#fff" stroke-width="0.5"/><path d="M445,384.6L419.8,372" stroke="#5c5cc3"/><path d="M432.5,380.3L445,384.6" stroke="#606fd6"/><path d="M538.7,397.3L523.9,392.3L539,391.9L553.7,396.4Z" fill="#fff" stroke="#fff" stroke-width="0.5"/><path d="M553.7,396.4L539,391.9" stroke="#5a5a9c"/><path d="M523.9,392.3L539,391.9" stroke="#5b5bb3"/><path d="M394.8,308.2L369.5,278.6L382,300.8L407.3,326Z" fill="#fff" stroke="#fff" stroke-width="0.5"/><path d="M394.8,308.2L369.5,278.6" stroke="#76ddec"/><path d="M369.5,278.6L382,300.8" stroke="#d9f79f"/><path d="M463.7,403.2L445,398.6L458.3,395.9L476.9,400.6Z" fill="#fff" stroke="#fff" stroke-width="0.5"/><path d="M463.7,403.2L445,398.6" stroke="#5a5a9c"/><path d="M445,398.6L458.3,395.9" stroke="#5a5a9c"/><path d="M463.7,402L445,396.9L458.3,394.7L476.9,399.7Z" fill="#fff" stroke="#fff" stroke-width="0.5"/><path d="M463.7,402L445,396.9" stroke="#5a5a9c"/><path d="M445,396.9L458.3,394.7" stroke="#5a5aa4"/><path d="M420,403.1L394.8,396.4L407.3,394.3L432.5,400.8Z" fill="#fff" stroke="#fff" stroke-width="0.5"/><path d="M420,403.1L394.8,396.4" stroke="#5a5aa4"/><path d="M420,403.1L432.5,400.8" stroke="#5a5aa4"/><path d="M463.7,392.2L445,384.6L458.3,385.6L476.9,392.5Z" fill="#fff" stroke="#fff" stroke-width="0.5"/><path d="M463.7,392.2L445,384.6" stroke="#5b5bb3"/><path d="M445,384.6L458.3,385.6" stroke="#5c5cc3"/><path d="M432.5,351.1L407.3,326L419.8,343.7L445,364.3Z" fill="#fff" stroke="#fff" stroke-width="0.5"/><path d="M445,364.3L419.8,343.7" stroke="#6481da"/><path d="M432.5,351.1L445,364.3" stroke="#76ddec"/><path d="M420,399.4L394.8,391L407.3,390.2L432.5,398.1Z" fill="#fff" stroke="#fff" stroke-width="0.5"/><path d="M420,399.4L394.8,391" stroke="#5b5bac"/><path d="M420,399.4L432.5,398.1" stroke="#5b5bac"/><path d="M495.6,405.2L476.9,400.6L490.2,397.9L508.8,402.5Z" fill="#fff" stroke="#fff" stroke-width="0.5"/><path d="M508.8,402.5L490.2,397.9" stroke="#5a5a9c"/><path d="M495.6,405.2L508.8,402.5" stroke="#5a5a9c"/><path d="M495.6,404.6L476.9,399.7L490.2,397.4L508.8,402.2Z" fill="#fff" stroke="#fff" stroke-width="0.5"/><path d="M508.8,402.2L490.2,397.4" stroke="#5a5a9c"/><path d="M495.6,404.6L508.8,402.2" stroke="#5a5a9c"/><path d="M463.7,375.9L445,364.3L458.3,370.4L476.9,380.2Z" fill="#fff" stroke="#fff" stroke-width="0.5"/><path d="M463.7,375.9L445,364.3" stroke="#5c5ccb"/><path d="M445,364.3L458.3,370.4" stroke="#6481da"/><path d="M495.6,399.4L476.9,392.5L490.2,392.7L508.8,398.8Z" fill="#fff" stroke="#fff" stroke-width="0.5"/><path d="M508.8,398.8L490.2,392.7" stroke="#5a5aa4"/><path d="M495.6,399.4L508.8,398.8" stroke="#5b5bb3"/><path d="M523.6,406.1L508.8,402.5L523.9,399.2L538.7,402.9Z" fill="#fff" stroke="#fff" stroke-width="0.5"/><path d="M523.6,406.1L508.8,402.5" stroke="#5a5a9c"/><path d="M508.8,402.5L523.9,399.2" stroke="#5a5a9c"/><path d="M523.6,405.9L508.8,402.2L523.9,399L538.7,402.7Z" fill="#fff" stroke="#fff" stroke-width="0.5"/><path d="M523.6,405.9L508.8,402.2" stroke="#5a5a9c"/><path d="M508.8,402.2L523.9,399" stroke="#5a5a9c"/><path d="M553.5,406.5L538.7,402.9L553.7,399.6L568.5,403.3Z" fill="#fff" stroke="#fff" stroke-width="0.5"/><path d="M568.5,403.3L553.7,399.6" stroke="#5a5a9c"/><path d="M553.5,406.5L568.5,403.3" stroke="#5a5a9c"/><path d="M553.5,406.4L538.7,402.7L553.7,399.6L568.5,403.2Z" fill="#fff" stroke="#fff" stroke-width="0.5"/><path d="M568.5,403.2L553.7,399.6" stroke="#5a5a9c"/><path d="M553.5,406.4L568.5,403.2" stroke="#5a5a9c"/><path d="M495.6,390.1L476.9,380.2L490.2,384.6L508.8,392.7Z" fill="#fff" stroke="#fff" stroke-width="0.5"/><path d="M508.8,392.7L490.2,384.6" stroke="#5b5bb3"/><path d="M495.6,390.1L508.8,392.7" stroke="#5c5ccb"/><path d="M553.5,405.1L538.7,400.9L553.7,398.6L568.5,402.5Z" fill="#fff" stroke="#fff" stroke-width="0.5"/><path d="M568.5,402.5L553.7,398.6" stroke="#5a5a9c"/><path d="M553.5,405.1L568.5,402.5" stroke="#5a5aa4"/><path d="M523.6,403.3L508.8,398.8L523.9,396.7L538.7,400.9Z" fill="#fff" stroke="#fff" stroke-width="0.5"/><path d="M523.6,403.3L508.8,398.8" stroke="#5a5aa4"/><path d="M508.8,398.8L523.9,396.7" stroke="#5a5aa4"/><path d="M420,376L394.8,359.3L407.3,365.6L432.5,380.3Z" fill="#fff" stroke="#fff" stroke-width="0.5"/><path d="M420,376L394.8,359.3" stroke="#606fd6"/><path d="M420,376L432.5,380.3" stroke="#606fd6"/><path d="M553.5,402.2L538.7,397.3L553.7,396.4L568.5,400.8Z" fill="#fff" stroke="#fff" stroke-width="0.5"/><path d="M568.5,400.8L553.7,396.4" stroke="#5a5a9c"/><path d="M553.5,402.2L568.5,400.8" stroke="#5b5bac"/><path d="M523.6,398.2L508.8,392.7L523.9,392.3L538.7,397.3Z" fill="#fff" stroke="#fff" stroke-width="0.5"/><path d="M523.6,398.2L508.8,392.7" stroke="#5b5bac"/><path d="M508.8,392.7L523.9,392.3" stroke="#5b5bb3"/><path d="M451.2,405.6L432.5,400.8L445,398.6L463.7,403.2Z" fill="#fff" stroke="#fff" stroke-width="0.5"/><path d="M463.7,403.2L445,398.6" stroke="#5a5a9c"/><path d="M432.5,400.8L445,398.6" stroke="#5a5aa4"/><path d="M451.2,403.5L432.5,398.1L445,396.9L463.7,402Z" fill="#fff" stroke="#fff" stroke-width="0.5"/><path d="M463.7,402L445,396.9" stroke="#5a5a9c"/><path d="M432.5,398.1L445,396.9" stroke="#5b5bac"/><path d="M451.2,389.2L432.5,380.3L445,384.6L463.7,392.2Z" fill="#fff" stroke="#fff" stroke-width="0.5"/><path d="M463.7,392.2L445,384.6" stroke="#5b5bb3"/><path d="M432.5,380.3L445,384.6" stroke="#606fd6"/><path d="M482.3,407.9L463.7,403.2L476.9,400.6L495.6,405.2Z" fill="#fff" stroke="#fff" stroke-width="0.5"/><path d="M482.3,407.9L463.7,403.2" stroke="#5a5a9c"/><path d="M482.3,407.9L495.6,405.2" stroke="#5a5a9c"/><path d="M482.3,407.1L463.7,402L476.9,399.7L495.6,404.6Z" fill="#fff" stroke="#fff" stroke-width="0.5"/><path d="M482.3,407.1L463.7,402" stroke="#5a5a9c"/><path d="M482.3,407.1L495.6,404.6" stroke="#5a5a9c"/><path d="M420,337.8L394.8,308.2L407.3,326L432.5,351.1Z" fill="#fff" stroke="#fff" stroke-width="0.5"/><path d="M420,337.8L394.8,308.2" stroke="#76ddec"/><path d="M420,337.8L432.5,351.1" stroke="#76ddec"/><path d="M482.3,399.9L463.7,392.2L476.9,392.5L495.6,399.4Z" fill="#fff" stroke="#fff" stroke-width="0.5"/><path d="M482.3,399.9L463.7,392.2" stroke="#5b5bb3"/><path d="M482.3,399.9L495.6,399.4" stroke="#5b5bb3"/><path d="M451.2,365.4L432.5,351.1L445,364.3L463.7,375.9Z" fill="#fff" stroke="#fff" stroke-width="0.5"/><path d="M463.7,375.9L445,364.3" stroke="#5c5ccb"/><path d="M432.5,351.1L445,364.3" stroke="#76ddec"/><path d="M510.3,408.8L495.6,405.2L508.8,402.5L523.6,406.1Z" fill="#fff" stroke="#fff" stroke-width="0.5"/><path d="M523.6,406.1L508.8,402.5" stroke="#5a5a9c"/><path d="M495.6,405.2L508.8,402.5" stroke="#5a5a9c"/><path d="M510.3,408.4L495.6,404.6L508.8,402.2L523.6,405.9Z" fill="#fff" stroke="#fff" stroke-width="0.5"/><path d="M523.6,405.9L508.8,402.2" stroke="#5a5a9c"/><path d="M495.6,404.6L508.8,402.2" stroke="#5a5a9c"/><path d="M510.3,404.2L495.6,399.4L508.8,398.8L523.6,403.3Z" fill="#fff" stroke="#fff" stroke-width="0.5"/><path d="M523.6,403.3L508.8,398.8" stroke="#5a5aa4"/><path d="M495.6,399.4L508.8,398.8" stroke="#5b5bb3"/><path d="M538.4,409.8L523.6,406.1L538.7,402.9L553.5,406.5Z" fill="#fff" stroke="#fff" stroke-width="0.5"/><path d="M538.4,409.8L523.6,406.1" stroke="#5a5a9c"/><path d="M538.4,409.8L553.5,406.5" stroke="#5a5a9c"/><path d="M538.4,409.6L523.6,405.9L538.7,402.7L553.5,406.4Z" fill="#fff" stroke="#fff" stroke-width="0.5"/><path d="M538.4,409.6L523.6,405.9" stroke="#5a5a9c"/><path d="M538.4,409.6L553.5,406.4" stroke="#5a5a9c"/><path d="M482.3,387.4L463.7,375.9L476.9,380.2L495.6,390.1Z" fill="#fff" stroke="#fff" stroke-width="0.5"/><path d="M482.3,387.4L463.7,375.9" stroke="#5c5ccb"/><path d="M482.3,387.4L495.6,390.1" stroke="#5c5ccb"/><path d="M538.4,407.7L523.6,403.3L538.7,400.9L553.5,405.1Z" fill="#fff" stroke="#fff" stroke-width="0.5"/><path d="M538.4,407.7L523.6,403.3" stroke="#5a5aa4"/><path d="M538.4,407.7L553.5,405.1" stroke="#5a5aa4"/><path d="M438.7,407.9L420,403.1L432.5,400.8L451.2,405.6Z" fill="#fff" stroke="#fff" stroke-width="0.5"/><path d="M438.7,407.9L420,403.1" stroke="#5a5aa4"/><path d="M420,403.1L432.5,400.8" stroke="#5a5aa4"/><path d="M438.7,405.1L420,399.4L432.5,398.1L451.2,403.5Z" fill="#fff" stroke="#fff" stroke-width="0.5"/><path d="M438.7,405.1L420,399.4" stroke="#5a5aa4"/><path d="M420,399.4L432.5,398.1" stroke="#5b5bac"/><path d="M538.4,403.7L523.6,398.2L538.7,397.3L553.5,402.2Z" fill="#fff" stroke="#fff" stroke-width="0.5"/><path d="M538.4,403.7L523.6,398.2" stroke="#5b5bac"/><path d="M538.4,403.7L553.5,402.2" stroke="#5b5bac"/><path d="M510.3,396.5L495.6,390.1L508.8,392.7L523.6,398.2Z" fill="#fff" stroke="#fff" stroke-width="0.5"/><path d="M523.6,398.2L508.8,392.7" stroke="#5b5bac"/><path d="M495.6,390.1L508.8,392.7" stroke="#5c5ccb"/><path d="M438.7,386.1L420,376L432.5,380.3L451.2,389.2Z" fill="#fff" stroke="#fff" stroke-width="0.5"/><path d="M438.7,386.1L420,376" stroke="#5c5ccb"/><path d="M420,376L432.5,380.3" stroke="#606fd6"/><path d="M469.8,410.3L451.2,405.6L463.7,403.2L482.3,407.9Z" fill="#fff" stroke="#fff" stroke-width="0.5"/><path d="M482.3,407.9L463.7,403.2" stroke="#5a5a9c"/><path d="M469.8,410.3L482.3,407.9" stroke="#5a5aa4"/><path d="M469.8,408.9L451.2,403.5L463.7,402L482.3,407.1Z" fill="#fff" stroke="#fff" stroke-width="0.5"/><path d="M482.3,407.1L463.7,402" stroke="#5a5a9c"/><path d="M469.8,408.9L482.3,407.1" stroke="#5a5aa4"/><path d="M469.8,398.1L451.2,389.2L463.7,392.2L482.3,399.9Z" fill="#fff" stroke="#fff" stroke-width="0.5"/><path d="M482.3,399.9L463.7,392.2" stroke="#5b5bb3"/><path d="M469.8,398.1L482.3,399.9" stroke="#5c5ccb"/><path d="M497.1,411.6L482.3,407.9L495.6,405.2L510.3,408.8Z" fill="#fff" stroke="#fff" stroke-width="0.5"/><path d="M497.1,411.6L482.3,407.9" stroke="#5a5a9c"/><path d="M482.3,407.9L495.6,405.2" stroke="#5a5a9c"/><path d="M497.1,411L482.3,407.1L495.6,404.6L510.3,408.4Z" fill="#fff" stroke="#fff" stroke-width="0.5"/><path d="M497.1,411L482.3,407.1" stroke="#5a5a9c"/><path d="M482.3,407.1L495.6,404.6" stroke="#5a5a9c"/><path d="M497.1,405.1L482.3,399.9L495.6,399.4L510.3,404.2Z" fill="#fff" stroke="#fff" stroke-width="0.5"/><path d="M497.1,405.1L482.3,399.9" stroke="#5b5bac"/><path d="M482.3,399.9L495.6,399.4" stroke="#5b5bb3"/><path d="M525.1,412.5L510.3,408.8L523.6,406.1L538.4,409.8Z" fill="#fff" stroke="#fff" stroke-width="0.5"/><path d="M538.4,409.8L523.6,406.1" stroke="#5a5a9c"/><path d="M525.1,412.5L538.4,409.8" stroke="#5a5a9c"/><path d="M525.1,412.2L510.3,408.4L523.6,405.9L538.4,409.6Z" fill="#fff" stroke="#fff" stroke-width="0.5"/><path d="M538.4,409.6L523.6,405.9" stroke="#5a5a9c"/><path d="M525.1,412.2L538.4,409.6" stroke="#5a5a9c"/><path d="M438.7,355L420,337.8L432.5,351.1L451.2,365.4Z" fill="#fff" stroke="#fff" stroke-width="0.5"/><path d="M438.7,355L420,337.8" stroke="#6894dd"/><path d="M420,337.8L432.5,351.1" stroke="#76ddec"/><path d="M525.1,409L510.3,404.2L523.6,403.3L538.4,407.7Z" fill="#fff" stroke="#fff" stroke-width="0.5"/><path d="M538.4,407.7L523.6,403.3" stroke="#5a5aa4"/><path d="M525.1,409L538.4,407.7" stroke="#5b5bac"/><path d="M469.8,379.8L451.2,365.4L463.7,375.9L482.3,387.4Z" fill="#fff" stroke="#fff" stroke-width="0.5"/><path d="M482.3,387.4L463.7,375.9" stroke="#5c5ccb"/><path d="M469.8,379.8L482.3,387.4" stroke="#6894dd"/><path d="M497.1,394.7L482.3,387.4L495.6,390.1L510.3,396.5Z" fill="#fff" stroke="#fff" stroke-width="0.5"/><path d="M497.1,394.7L482.3,387.4" stroke="#5b5bbb"/><path d="M482.3,387.4L495.6,390.1" stroke="#5c5ccb"/><path d="M525.1,402.8L510.3,396.5L523.6,398.2L538.4,403.7Z" fill="#fff" stroke="#fff" stroke-width="0.5"/><path d="M538.4,403.7L523.6,398.2" stroke="#5b5bac"/><path d="M525.1,402.8L538.4,403.7" stroke="#5b5bbb"/><path d="M457.3,412.6L438.7,407.9L451.2,405.6L469.8,410.3Z" fill="#fff" stroke="#fff" stroke-width="0.5"/><path d="M457.3,412.6L438.7,407.9" stroke="#5a5aa4"/><path d="M457.3,412.6L469.8,410.3" stroke="#5a5aa4"/><path d="M457.3,410.7L438.7,405.1L451.2,403.5L469.8,408.9Z" fill="#fff" stroke="#fff" stroke-width="0.5"/><path d="M457.3,410.7L438.7,405.1" stroke="#5a5aa4"/><path d="M457.3,410.7L469.8,408.9" stroke="#5a5aa4"/><path d="M457.3,396.3L438.7,386.1L451.2,389.2L469.8,398.1Z" fill="#fff" stroke="#fff" stroke-width="0.5"/><path d="M457.3,396.3L438.7,386.1" stroke="#5c5ccb"/><path d="M457.3,396.3L469.8,398.1" stroke="#5c5ccb"/><path d="M484.6,414L469.8,410.3L482.3,407.9L497.1,411.6Z" fill="#fff" stroke="#fff" stroke-width="0.5"/><path d="M497.1,411.6L482.3,407.9" stroke="#5a5a9c"/><path d="M469.8,410.3L482.3,407.9" stroke="#5a5aa4"/><path d="M484.6,412.9L469.8,408.9L482.3,407.1L497.1,411Z" fill="#fff" stroke="#fff" stroke-width="0.5"/><path d="M497.1,411L482.3,407.1" stroke="#5a5a9c"/><path d="M469.8,408.9L482.3,407.1" stroke="#5a5aa4"/><path d="M484.6,404.1L469.8,398.1L482.3,399.9L497.1,405.1Z" fill="#fff" stroke="#fff" stroke-width="0.5"/><path d="M497.1,405.1L482.3,399.9" stroke="#5b5bac"/><path d="M469.8,398.1L482.3,399.9" stroke="#5c5ccb"/><path d="M511.9,415.2L497.1,411.6L510.3,408.8L525.1,412.5Z" fill="#fff" stroke="#fff" stroke-width="0.5"/><path d="M511.9,415.2L497.1,411.6" stroke="#5a5a9c"/><path d="M511.9,415.2L525.1,412.5" stroke="#5a5a9c"/><path d="M511.9,414.8L497.1,411L510.3,408.4L525.1,412.2Z" fill="#fff" stroke="#fff" stroke-width="0.5"/><path d="M511.9,414.8L497.1,411" stroke="#5a5a9c"/><path d="M511.9,414.8L525.1,412.2" stroke="#5a5a9c"/><path d="M511.9,410.4L497.1,405.1L510.3,404.2L525.1,409Z" fill="#fff" stroke="#fff" stroke-width="0.5"/><path d="M511.9,410.4L497.1,405.1" stroke="#5b5bac"/><path d="M511.9,410.4L525.1,409" stroke="#5b5bac"/><path d="M511.9,402L497.1,394.7L510.3,396.5L525.1,402.8Z" fill="#fff" stroke="#fff" stroke-width="0.5"/><path d="M511.9,402L497.1,394.7" stroke="#5b5bbb"/><path d="M511.9,402L525.1,402.8" stroke="#5b5bbb"/><path d="M457.3,372.2L438.7,355L451.2,365.4L469.8,379.8Z" fill="#fff" stroke="#fff" stroke-width="0.5"/><path d="M457.3,372.2L438.7,355" stroke="#6894dd"/><path d="M457.3,372.2L469.8,379.8" stroke="#6894dd"/><path d="M484.6,388.7L469.8,379.8L482.3,387.4L497.1,394.7Z" fill="#fff" stroke="#fff" stroke-width="0.5"/><path d="M497.1,394.7L482.3,387.4" stroke="#5b5bbb"/><path d="M469.8,379.8L482.3,387.4" stroke="#6894dd"/><path d="M472.1,416.3L457.3,412.6L469.8,410.3L484.6,414Z" fill="#fff" stroke="#fff" stroke-width="0.5"/><path d="M472.1,416.3L457.3,412.6" stroke="#5a5a9c"/><path d="M457.3,412.6L469.8,410.3" stroke="#5a5aa4"/><path d="M472.1,414.9L457.3,410.7L469.8,408.9L484.6,412.9Z" fill="#fff" stroke="#fff" stroke-width="0.5"/><path d="M472.1,414.9L457.3,410.7" stroke="#5a5aa4"/><path d="M457.3,410.7L469.8,408.9" stroke="#5a5aa4"/><path d="M499.4,417.6L484.6,414L497.1,411.6L511.9,415.2Z" fill="#fff" stroke="#fff" stroke-width="0.5"/><path d="M511.9,415.2L497.1,411.6" stroke="#5a5a9c"/><path d="M499.4,417.6L511.9,415.2" stroke="#5a5a9c"/><path d="M499.4,416.9L484.6,412.9L497.1,411L511.9,414.8Z" fill="#fff" stroke="#fff" stroke-width="0.5"/><path d="M511.9,414.8L497.1,411" stroke="#5a5a9c"/><path d="M499.4,416.9L511.9,414.8" stroke="#5a5aa4"/><path d="M472.1,403L457.3,396.3L469.8,398.1L484.6,404.1Z" fill="#fff" stroke="#fff" stroke-width="0.5"/><path d="M472.1,403L457.3,396.3" stroke="#5b5bbb"/><path d="M457.3,396.3L469.8,398.1" stroke="#5c5ccb"/><path d="M499.4,410L484.6,404.1L497.1,405.1L511.9,410.4Z" fill="#fff" stroke="#fff" stroke-width="0.5"/><path d="M511.9,410.4L497.1,405.1" stroke="#5b5bac"/><path d="M499.4,410L511.9,410.4" stroke="#5b5bbb"/><path d="M499.4,397.7L484.6,388.7L497.1,394.7L511.9,402Z" fill="#fff" stroke="#fff" stroke-width="0.5"/><path d="M511.9,402L497.1,394.7" stroke="#5b5bbb"/><path d="M499.4,397.7L511.9,402" stroke="#606fd6"/><path d="M472.1,382.8L457.3,372.2L469.8,379.8L484.6,388.7Z" fill="#fff" stroke="#fff" stroke-width="0.5"/><path d="M472.1,382.8L457.3,372.2" stroke="#606fd6"/><path d="M457.3,372.2L469.8,379.8" stroke="#6894dd"/><path d="M486.9,420.1L472.1,416.3L484.6,414L499.4,417.6Z" fill="#fff" stroke="#fff" stroke-width="0.5"/><path d="M486.9,420.1L472.1,416.3" stroke="#5a5a9c"/><path d="M486.9,420.1L499.4,417.6" stroke="#5a5a9c"/><path d="M486.9,419L472.1,414.9L484.6,412.9L499.4,416.9Z" fill="#fff" stroke="#fff" stroke-width="0.5"/><path d="M486.9,419L472.1,414.9" stroke="#5a5aa4"/><path d="M486.9,419L499.4,416.9" stroke="#5a5aa4"/><path d="M486.9,409.7L472.1,403L484.6,404.1L499.4,410Z" fill="#fff" stroke="#fff" stroke-width="0.5"/><path d="M486.9,409.7L472.1,403" stroke="#5b5bbb"/><path d="M486.9,409.7L499.4,410" stroke="#5b5bbb"/><path d="M486.9,393.4L472.1,382.8L484.6,388.7L499.4,397.7Z" fill="#fff" stroke="#fff" stroke-width="0.5"/><path d="M486.9,393.4L472.1,382.8" stroke="#606fd6"/><path d="M486.9,393.4L499.4,397.7" stroke="#606fd6"/></g><text x="69.3" y="386.1" font-size="21.8" text-anchor="end" font-family="Liberation Sans" fill="#111">0</text><text x="69.3" y="322.9" font-size="21.8" text-anchor="end" font-family="Liberation Sans" fill="#111">0.5</text><text x="69.3" y="258.5" font-size="21.8" text-anchor="end" font-family="Liberation Sans" fill="#111">1</text><text x="69.3" y="194.2" font-size="21.8" text-anchor="end" font-family="Liberation Sans" fill="#111">1.5</text><text x="69.3" y="128.9" font-size="21.8" text-anchor="end" font-family="Liberation Sans" fill="#111">2</text><text x="81.9" y="106.7" font-size="21.8" font-family="Liberation Sans" fill="#111">x 10</text><text x="124.6" y="91" font-size="13" font-family="Liberation Sans" fill="#111">8</text><text x="35.5" y="414.6" font-size="21.8" font-family="Liberation Sans" fill="#111">10</text><text x="61.7" y="399.4" font-size="13" font-family="Liberation Sans" fill="#111">1</text><text x="203.6" y="455.2" font-size="21.8" font-family="Liberation Sans" fill="#111">10</text><text x="229.6" y="440.4" font-size="13" font-family="Liberation Sans" fill="#111">0</text><text x="367.2" y="496.7" font-size="21.8" font-family="Liberation Sans" fill="#111">10</text><text x="393.3" y="481.4" font-size="13" font-family="Liberation Sans" fill="#111">-1</text><text x="429.4" y="496.7" font-size="21.8" font-family="Liberation Sans" fill="#111">10</text><text x="454.6" y="482" font-size="13" font-family="Liberation Sans" fill="#111">0</text><text x="600.3" y="456.1" font-size="21.8" font-family="Liberation Sans" fill="#111">10</text><text x="626" y="441" font-size="13" font-family="Liberation Sans" fill="#111">1</text><text x="20.2" y="70.1" font-size="21.5" textLength="98" lengthAdjust="spacingAndGlyphs" font-family="Liberation Sans" font-weight="bold" fill="#000" stroke="#000" stroke-width="0.35">Resonant</text><text x="125.5" y="70.1" font-size="21.5" textLength="103.1" lengthAdjust="spacingAndGlyphs" font-family="Liberation Sans" font-weight="bold" fill="#000" stroke="#000" stroke-width="0.35">frequency</text><text x="231.3" y="70.1" font-size="21.5" textLength="41.6" lengthAdjust="spacingAndGlyphs" font-family="Liberation Sans" font-weight="bold" fill="#000" stroke="#000" stroke-width="0.35">(Hz)</text><g transform="translate(53.4,442.2) rotate(12.68)"><text x="-1.5" y="0" font-size="22.5" textLength="86.2" lengthAdjust="spacingAndGlyphs" font-family="Liberation Sans" font-weight="bold" fill="#000" stroke="#000" stroke-width="0.35">Polymer</text><text x="91.5" y="0" font-size="22.5" textLength="38.5" lengthAdjust="spacingAndGlyphs" font-family="Liberation Sans" font-weight="bold" fill="#000" stroke="#000" stroke-width="0.35">film</text><text x="137.9" y="0" font-size="22.5" textLength="95.5" lengthAdjust="spacingAndGlyphs" font-family="Liberation Sans" font-weight="bold" fill="#000" stroke="#000" stroke-width="0.35">thickness</text><text x="237.5" y="0" font-size="22.5" textLength="14.3" lengthAdjust="spacingAndGlyphs" font-style="italic" font-family="Liberation Sans" font-weight="bold" fill="#000" stroke="#000" stroke-width="0.35">H</text><text x="255.8" y="0" font-size="22.5" textLength="51.6" lengthAdjust="spacingAndGlyphs" font-family="Liberation Sans" font-weight="bold" fill="#000" stroke="#000" stroke-width="0.35">(μm)</text></g><g transform="translate(524.6,502.9) rotate(-12.3)"><text x="0.6" y="0" font-size="22.5" textLength="64.4" lengthAdjust="spacingAndGlyphs" font-family="Liberation Sans" font-weight="bold" fill="#000" stroke="#000" stroke-width="0.35">Cavity</text><text x="69.7" y="0" font-size="22.5" textLength="59.7" lengthAdjust="spacingAndGlyphs" font-family="Liberation Sans" font-weight="bold" fill="#000" stroke="#000" stroke-width="0.35">width</text><text x="134.5" y="0" font-size="22.5" textLength="11.5" lengthAdjust="spacingAndGlyphs" font-style="italic" font-family="Liberation Sans" font-weight="bold" fill="#000" stroke="#000" stroke-width="0.35">d</text><text x="153.1" y="0" font-size="22.5" textLength="49.5" lengthAdjust="spacingAndGlyphs" font-family="Liberation Sans" font-weight="bold" fill="#000" stroke="#000" stroke-width="0.35">(μm)</text></g><text x="125" y="166" font-size="19.3" textLength="10.4" lengthAdjust="spacingAndGlyphs" font-style="italic" font-family="Liberation Sans" font-weight="bold" fill="#000" stroke="#000" stroke-width="0.35">E</text><text x="135.6" y="166" font-size="19.3" textLength="31.4" lengthAdjust="spacingAndGlyphs" font-family="Liberation Sans" font-weight="bold" fill="#000" stroke="#000" stroke-width="0.35">=10</text><text x="171.5" y="166" font-size="19.3" textLength="36.3" lengthAdjust="spacingAndGlyphs" font-family="Liberation Sans" font-weight="bold" fill="#000" stroke="#000" stroke-width="0.35">GPa</text><text x="152.4" y="262.8" font-size="19.3" textLength="11.4" lengthAdjust="spacingAndGlyphs" font-family="Liberation Sans" font-weight="bold" fill="#000" stroke="#000" stroke-width="0.35">2</text><text x="168.2" y="262.8" font-size="19.3" textLength="35.4" lengthAdjust="spacingAndGlyphs" font-family="Liberation Sans" font-weight="bold" fill="#000" stroke="#000" stroke-width="0.35">GPa</text><text x="125.2" y="327" font-size="19.3" textLength="34" lengthAdjust="spacingAndGlyphs" font-family="Liberation Sans" font-weight="bold" fill="#000" stroke="#000" stroke-width="0.35">100</text><text x="163.2" y="327" font-size="19.3" textLength="41.6" lengthAdjust="spacingAndGlyphs" font-family="Liberation Sans" font-weight="bold" fill="#000" stroke="#000" stroke-width="0.35">MPa</text><text x="136.4" y="356.2" font-size="19.3" textLength="22.8" lengthAdjust="spacingAndGlyphs" font-family="Liberation Sans" font-weight="bold" fill="#000" stroke="#000" stroke-width="0.35">10</text><text x="163.3" y="356.2" font-size="19.3" textLength="41" lengthAdjust="spacingAndGlyphs" font-family="Liberation Sans" font-weight="bold" fill="#000" stroke="#000" stroke-width="0.35">MPa</text></svg></body></html>
